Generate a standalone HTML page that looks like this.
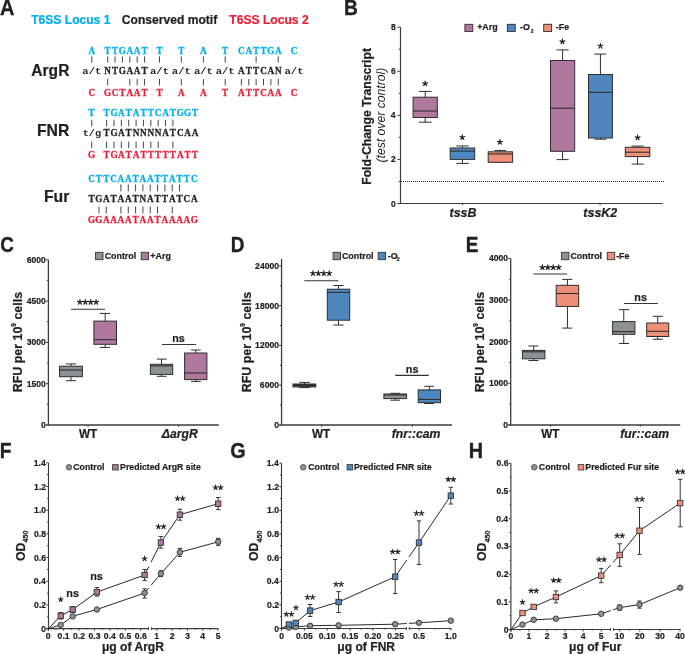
<!DOCTYPE html>
<html><head><meta charset="utf-8"><style>html,body{margin:0;padding:0;background:#fff;}svg{display:block;filter:blur(0.3px);}</style></head>
<body>
<svg width="685" height="654" viewBox="0 0 685 654">
<rect width="685" height="654" fill="#fff"/>
<text transform="translate(0.6 14.7) scale(0.94 1.06)" x="-0.53" font-family="Liberation Sans" font-size="21.3" font-weight="bold" fill="#231f20" stroke="#231f20" stroke-width="0.35">A</text>
<text transform="translate(345.2 14.7) scale(0.9 1.06)" x="-1.42" font-family="Liberation Sans" font-size="21.3" font-weight="bold" fill="#231f20" stroke="#231f20" stroke-width="0.35">B</text>
<text transform="translate(1.1 252) scale(0.89 1.06)" x="-0.87" font-family="Liberation Sans" font-size="21.3" font-weight="bold" fill="#231f20" stroke="#231f20" stroke-width="0.35">C</text>
<text transform="translate(232.1 251.7) scale(0.89 1.06)" x="-1.42" font-family="Liberation Sans" font-size="21.3" font-weight="bold" fill="#231f20" stroke="#231f20" stroke-width="0.35">D</text>
<text transform="translate(467.1 251.7) scale(0.89 1.06)" x="-1.42" font-family="Liberation Sans" font-size="21.3" font-weight="bold" fill="#231f20" stroke="#231f20" stroke-width="0.35">E</text>
<text transform="translate(1 457.5) scale(0.9 1.06)" x="-1.42" font-family="Liberation Sans" font-size="21.3" font-weight="bold" fill="#231f20" stroke="#231f20" stroke-width="0.35">F</text>
<text transform="translate(231 457.7) scale(0.93 1.06)" x="-0.87" font-family="Liberation Sans" font-size="21.3" font-weight="bold" fill="#231f20" stroke="#231f20" stroke-width="0.35">G</text>
<text transform="translate(470.1 457.7) scale(0.93 1.06)" x="-1.42" font-family="Liberation Sans" font-size="21.3" font-weight="bold" fill="#231f20" stroke="#231f20" stroke-width="0.35">H</text>
<text transform="translate(31.3 24.4) scale(1 1.06)" x="-0.14" font-family="Liberation Sans" font-size="12.1" font-weight="bold" fill="#00aeef" stroke="#00aeef" stroke-width="0.22">T6SS Locus 1</text>
<text transform="translate(122.3 24.4) scale(1 1.06)" x="-0.5" font-family="Liberation Sans" font-size="12.1" font-weight="bold" fill="#231f20" stroke="#231f20" stroke-width="0.22">Conserved motif</text>
<text transform="translate(229.5 24.4) scale(1 1.06)" x="-0.14" font-family="Liberation Sans" font-size="12.1" font-weight="bold" fill="#e8203a" stroke="#e8203a" stroke-width="0.22">T6SS Locus 2</text>
<text transform="translate(69.1 75.5) scale(1 1.06)" x="-37.81" font-family="Liberation Sans" font-size="15.6" font-weight="bold" fill="#231f20" stroke="#231f20" stroke-width="0.22">ArgR</text>
<text transform="translate(69.1 135.6) scale(1 1.06)" x="-32.15" font-family="Liberation Sans" font-size="15.8" font-weight="bold" fill="#231f20" stroke="#231f20" stroke-width="0.22">FNR</text>
<text transform="translate(69.1 201.9) scale(1 1.06)" x="-25.21" font-family="Liberation Sans" font-size="15.8" font-weight="bold" fill="#231f20" stroke="#231f20" stroke-width="0.22">Fur</text>
<text transform="translate(0 53.8) scale(0.86 1)" x="106.74 125.23 133.8 142.37 150.94 159.51 168.08 185.47 210.81 236.51 261.86 280.7 289.27 297.84 306.41 314.98 323.55 341.86" y="0" font-family="Liberation Serif" font-weight="bold" font-size="10.7" text-anchor="middle" fill="#00aeef" stroke="#00aeef" stroke-width="0.3">ATTGAATTTATCATTGAC</text>
<text transform="translate(0 95.6) scale(0.86 1)" x="106.74 125.23 133.8 142.37 150.94 159.51 168.08 185.47 210.81 236.51 261.86 280.7 289.27 297.84 306.41 314.98 323.55 341.86" y="0" font-family="Liberation Serif" font-weight="bold" font-size="10.7" text-anchor="middle" fill="#e8203a" stroke="#e8203a" stroke-width="0.3">CGCTAATTAATATTCAAC</text>
<text transform="translate(0 74) scale(0.86 1)" x="125.23 133.8 142.37 150.94 159.51 168.08 280.7 289.27 297.84 306.41 314.98 323.55" y="0" font-family="Liberation Serif" font-weight="bold" font-size="10.7" text-anchor="middle" fill="#231f20" stroke="#231f20" stroke-width="0.3">NTGAATATTCAN</text>
<text transform="translate(91.8 74) scale(1.03 0.92)" x="0" y="0" font-family="Liberation Mono" font-weight="bold" font-size="10.2" text-anchor="middle" fill="#231f20">a/t</text>
<text transform="translate(159.5 74) scale(1.03 0.92)" x="0" y="0" font-family="Liberation Mono" font-weight="bold" font-size="10.2" text-anchor="middle" fill="#231f20">a/t</text>
<text transform="translate(181.3 74) scale(1.03 0.92)" x="0" y="0" font-family="Liberation Mono" font-weight="bold" font-size="10.2" text-anchor="middle" fill="#231f20">a/t</text>
<text transform="translate(203.4 74) scale(1.03 0.92)" x="0" y="0" font-family="Liberation Mono" font-weight="bold" font-size="10.2" text-anchor="middle" fill="#231f20">a/t</text>
<text transform="translate(225.2 74) scale(1.03 0.92)" x="0" y="0" font-family="Liberation Mono" font-weight="bold" font-size="10.2" text-anchor="middle" fill="#231f20">a/t</text>
<text transform="translate(294 74) scale(1.03 0.92)" x="0" y="0" font-family="Liberation Mono" font-weight="bold" font-size="10.2" text-anchor="middle" fill="#231f20">a/t</text>
<line x1="91.8" y1="56.3" x2="91.8" y2="62.6" stroke="#333" stroke-width="0.9"/>
<line x1="107.7" y1="56.3" x2="107.7" y2="62.6" stroke="#333" stroke-width="0.9"/>
<line x1="115.07" y1="56.3" x2="115.07" y2="62.6" stroke="#333" stroke-width="0.9"/>
<line x1="122.44" y1="56.3" x2="122.44" y2="62.6" stroke="#333" stroke-width="0.9"/>
<line x1="129.81" y1="56.3" x2="129.81" y2="62.6" stroke="#333" stroke-width="0.9"/>
<line x1="137.18" y1="56.3" x2="137.18" y2="62.6" stroke="#333" stroke-width="0.9"/>
<line x1="144.55" y1="56.3" x2="144.55" y2="62.6" stroke="#333" stroke-width="0.9"/>
<line x1="159.5" y1="56.3" x2="159.5" y2="62.6" stroke="#333" stroke-width="0.9"/>
<line x1="181.3" y1="56.3" x2="181.3" y2="62.6" stroke="#333" stroke-width="0.9"/>
<line x1="203.4" y1="56.3" x2="203.4" y2="62.6" stroke="#333" stroke-width="0.9"/>
<line x1="225.2" y1="56.3" x2="225.2" y2="62.6" stroke="#333" stroke-width="0.9"/>
<line x1="256.14" y1="56.3" x2="256.14" y2="62.6" stroke="#333" stroke-width="0.9"/>
<line x1="278.25" y1="56.3" x2="278.25" y2="62.6" stroke="#333" stroke-width="0.9"/>
<line x1="107.7" y1="78.9" x2="107.7" y2="85.4" stroke="#333" stroke-width="0.9"/>
<line x1="129.81" y1="78.9" x2="129.81" y2="85.4" stroke="#333" stroke-width="0.9"/>
<line x1="137.18" y1="78.9" x2="137.18" y2="85.4" stroke="#333" stroke-width="0.9"/>
<line x1="144.55" y1="78.9" x2="144.55" y2="85.4" stroke="#333" stroke-width="0.9"/>
<line x1="159.5" y1="78.9" x2="159.5" y2="85.4" stroke="#333" stroke-width="0.9"/>
<line x1="181.3" y1="78.9" x2="181.3" y2="85.4" stroke="#333" stroke-width="0.9"/>
<line x1="203.4" y1="78.9" x2="203.4" y2="85.4" stroke="#333" stroke-width="0.9"/>
<line x1="225.2" y1="78.9" x2="225.2" y2="85.4" stroke="#333" stroke-width="0.9"/>
<line x1="241.4" y1="78.9" x2="241.4" y2="85.4" stroke="#333" stroke-width="0.9"/>
<line x1="248.77" y1="78.9" x2="248.77" y2="85.4" stroke="#333" stroke-width="0.9"/>
<line x1="256.14" y1="78.9" x2="256.14" y2="85.4" stroke="#333" stroke-width="0.9"/>
<line x1="263.51" y1="78.9" x2="263.51" y2="85.4" stroke="#333" stroke-width="0.9"/>
<line x1="270.88" y1="78.9" x2="270.88" y2="85.4" stroke="#333" stroke-width="0.9"/>
<line x1="278.25" y1="78.9" x2="278.25" y2="85.4" stroke="#333" stroke-width="0.9"/>
<text transform="translate(0 115.8) scale(0.86 1)" x="106.63 123.95 132.52 141.09 149.66 158.23 166.8 175.37 183.94 192.51 201.08 209.65 218.22 226.79" y="0" font-family="Liberation Serif" font-weight="bold" font-size="10.7" text-anchor="middle" fill="#00aeef" stroke="#00aeef" stroke-width="0.3">TTGATATTCATGGT</text>
<text transform="translate(0 136) scale(0.86 1)" x="123.95 132.52 141.09 149.66 158.23 166.8 175.37 183.94 192.51 201.08 209.65 218.22 226.79" y="0" font-family="Liberation Serif" font-weight="bold" font-size="10.7" text-anchor="middle" fill="#231f20" stroke="#231f20" stroke-width="0.3">TGATNNNNATCAA</text>
<text transform="translate(91.9 136) scale(1.01 0.92)" x="0" y="0" font-family="Liberation Mono" font-weight="bold" font-size="10.2" text-anchor="middle" fill="#231f20">t/g</text>
<text transform="translate(0 158.2) scale(0.86 1)" x="106.63 123.95 132.52 141.09 149.66 158.23 166.8 175.37 183.94 192.51 201.08 209.65 218.22 226.79" y="0" font-family="Liberation Serif" font-weight="bold" font-size="10.7" text-anchor="middle" fill="#e8203a" stroke="#e8203a" stroke-width="0.3">GTGATATTTTTATT</text>
<line x1="91.7" y1="119.8" x2="91.7" y2="126.3" stroke="#333" stroke-width="0.9"/>
<line x1="106.6" y1="119.8" x2="106.6" y2="126.3" stroke="#333" stroke-width="0.9"/>
<line x1="113.97" y1="119.8" x2="113.97" y2="126.3" stroke="#333" stroke-width="0.9"/>
<line x1="121.34" y1="119.8" x2="121.34" y2="126.3" stroke="#333" stroke-width="0.9"/>
<line x1="128.71" y1="119.8" x2="128.71" y2="126.3" stroke="#333" stroke-width="0.9"/>
<line x1="136.08" y1="119.8" x2="136.08" y2="126.3" stroke="#333" stroke-width="0.9"/>
<line x1="143.45" y1="119.8" x2="143.45" y2="126.3" stroke="#333" stroke-width="0.9"/>
<line x1="150.82" y1="119.8" x2="150.82" y2="126.3" stroke="#333" stroke-width="0.9"/>
<line x1="158.19" y1="119.8" x2="158.19" y2="126.3" stroke="#333" stroke-width="0.9"/>
<line x1="165.56" y1="119.8" x2="165.56" y2="126.3" stroke="#333" stroke-width="0.9"/>
<line x1="172.93" y1="119.8" x2="172.93" y2="126.3" stroke="#333" stroke-width="0.9"/>
<line x1="91.7" y1="141.6" x2="91.7" y2="148.2" stroke="#333" stroke-width="0.9"/>
<line x1="106.6" y1="141.6" x2="106.6" y2="148.2" stroke="#333" stroke-width="0.9"/>
<line x1="113.97" y1="141.6" x2="113.97" y2="148.2" stroke="#333" stroke-width="0.9"/>
<line x1="121.34" y1="141.6" x2="121.34" y2="148.2" stroke="#333" stroke-width="0.9"/>
<line x1="128.71" y1="141.6" x2="128.71" y2="148.2" stroke="#333" stroke-width="0.9"/>
<line x1="136.08" y1="141.6" x2="136.08" y2="148.2" stroke="#333" stroke-width="0.9"/>
<line x1="143.45" y1="141.6" x2="143.45" y2="148.2" stroke="#333" stroke-width="0.9"/>
<line x1="150.82" y1="141.6" x2="150.82" y2="148.2" stroke="#333" stroke-width="0.9"/>
<line x1="158.19" y1="141.6" x2="158.19" y2="148.2" stroke="#333" stroke-width="0.9"/>
<line x1="172.93" y1="141.6" x2="172.93" y2="148.2" stroke="#333" stroke-width="0.9"/>
<text transform="translate(0 181.6) scale(0.86 1)" x="106.51 115.03 123.56 132.08 140.6 149.13 157.65 166.17 174.7 183.22 191.74 200.27 208.79 217.31 225.84" y="0" font-family="Liberation Serif" font-weight="bold" font-size="10.7" text-anchor="middle" fill="#00aeef" stroke="#00aeef" stroke-width="0.3">CTTCAATAATTATTC</text>
<text transform="translate(0 201.9) scale(0.86 1)" x="106.51 115.03 123.56 132.08 140.6 149.13 157.65 166.17 174.7 183.22 191.74 200.27 208.79 217.31 225.84" y="0" font-family="Liberation Serif" font-weight="bold" font-size="10.7" text-anchor="middle" fill="#231f20" stroke="#231f20" stroke-width="0.3">TGATAATNATTATCA</text>
<text transform="translate(0 223.4) scale(0.86 1)" x="106.51 115.03 123.56 132.08 140.6 149.13 157.65 166.17 174.7 183.22 191.74 200.27 208.79 217.31 225.84" y="0" font-family="Liberation Serif" font-weight="bold" font-size="10.7" text-anchor="middle" fill="#e8203a" stroke="#e8203a" stroke-width="0.3">GGAAAATAATAAAAG</text>
<line x1="120.92" y1="184.4" x2="120.92" y2="191.3" stroke="#333" stroke-width="0.9"/>
<line x1="128.25" y1="184.4" x2="128.25" y2="191.3" stroke="#333" stroke-width="0.9"/>
<line x1="135.58" y1="184.4" x2="135.58" y2="191.3" stroke="#333" stroke-width="0.9"/>
<line x1="142.91" y1="184.4" x2="142.91" y2="191.3" stroke="#333" stroke-width="0.9"/>
<line x1="150.24" y1="184.4" x2="150.24" y2="191.3" stroke="#333" stroke-width="0.9"/>
<line x1="157.57" y1="184.4" x2="157.57" y2="191.3" stroke="#333" stroke-width="0.9"/>
<line x1="164.9" y1="184.4" x2="164.9" y2="191.3" stroke="#333" stroke-width="0.9"/>
<line x1="172.23" y1="184.4" x2="172.23" y2="191.3" stroke="#333" stroke-width="0.9"/>
<line x1="179.56" y1="184.4" x2="179.56" y2="191.3" stroke="#333" stroke-width="0.9"/>
<line x1="98.93" y1="206.5" x2="98.93" y2="213.4" stroke="#333" stroke-width="0.9"/>
<line x1="106.26" y1="206.5" x2="106.26" y2="213.4" stroke="#333" stroke-width="0.9"/>
<line x1="120.92" y1="206.5" x2="120.92" y2="213.4" stroke="#333" stroke-width="0.9"/>
<line x1="128.25" y1="206.5" x2="128.25" y2="213.4" stroke="#333" stroke-width="0.9"/>
<line x1="135.58" y1="206.5" x2="135.58" y2="213.4" stroke="#333" stroke-width="0.9"/>
<line x1="142.91" y1="206.5" x2="142.91" y2="213.4" stroke="#333" stroke-width="0.9"/>
<line x1="150.24" y1="206.5" x2="150.24" y2="213.4" stroke="#333" stroke-width="0.9"/>
<line x1="157.57" y1="206.5" x2="157.57" y2="213.4" stroke="#333" stroke-width="0.9"/>
<line x1="172.23" y1="206.5" x2="172.23" y2="213.4" stroke="#333" stroke-width="0.9"/>
<line x1="400.5" y1="27.2" x2="400.5" y2="204.1" stroke="#3c3c3c" stroke-width="1.2"/>
<line x1="397.3" y1="203.5" x2="662.6" y2="203.5" stroke="#3c3c3c" stroke-width="1.15"/>
<text transform="translate(395.4 206.51) scale(1 1.12)" x="-4.43" font-family="Liberation Sans" font-size="8.6" font-weight="bold" fill="#231f20" stroke="#231f20" stroke-width="0.22">0</text>
<line x1="398.7" y1="181.46" x2="400.5" y2="181.46" stroke="#3c3c3c" stroke-width="1"/>
<line x1="397.4" y1="159.42" x2="400.5" y2="159.42" stroke="#3c3c3c" stroke-width="1"/>
<text transform="translate(395.4 162.43) scale(1 1.12)" x="-4.44" font-family="Liberation Sans" font-size="8.6" font-weight="bold" fill="#231f20" stroke="#231f20" stroke-width="0.22">2</text>
<line x1="398.7" y1="137.38" x2="400.5" y2="137.38" stroke="#3c3c3c" stroke-width="1"/>
<line x1="397.4" y1="115.34" x2="400.5" y2="115.34" stroke="#3c3c3c" stroke-width="1"/>
<text transform="translate(395.4 118.35) scale(1 1.12)" x="-4.74" font-family="Liberation Sans" font-size="8.6" font-weight="bold" fill="#231f20" stroke="#231f20" stroke-width="0.22">4</text>
<line x1="398.7" y1="93.3" x2="400.5" y2="93.3" stroke="#3c3c3c" stroke-width="1"/>
<line x1="397.4" y1="71.26" x2="400.5" y2="71.26" stroke="#3c3c3c" stroke-width="1"/>
<text transform="translate(395.4 74.27) scale(1 1.12)" x="-4.47" font-family="Liberation Sans" font-size="8.6" font-weight="bold" fill="#231f20" stroke="#231f20" stroke-width="0.22">6</text>
<line x1="398.7" y1="49.22" x2="400.5" y2="49.22" stroke="#3c3c3c" stroke-width="1"/>
<line x1="397.4" y1="27.18" x2="400.5" y2="27.18" stroke="#3c3c3c" stroke-width="1"/>
<text transform="translate(395.4 30.19) scale(1 1.12)" x="-4.52" font-family="Liberation Sans" font-size="8.6" font-weight="bold" fill="#231f20" stroke="#231f20" stroke-width="0.22">8</text>
<line x1="462.5" y1="203.5" x2="462.5" y2="205.3" stroke="#3c3c3c" stroke-width="1"/>
<line x1="600.1" y1="203.5" x2="600.1" y2="205.3" stroke="#3c3c3c" stroke-width="1"/>
<line x1="401" y1="181.5" x2="664" y2="181.5" stroke="#2a2a2a" stroke-width="1" stroke-dasharray="1 1"/>
<line x1="425.2" y1="91.4" x2="425.2" y2="97.2" stroke="#2e2e2e" stroke-width="1"/>
<line x1="425.2" y1="117.5" x2="425.2" y2="122.2" stroke="#2e2e2e" stroke-width="1"/>
<line x1="418.9" y1="91.4" x2="431.5" y2="91.4" stroke="#2e2e2e" stroke-width="1"/>
<line x1="418.9" y1="122.2" x2="431.5" y2="122.2" stroke="#2e2e2e" stroke-width="1"/>
<rect x="413.1" y="97.2" width="24.2" height="20.3" fill="#b0779f" stroke="#2e2e2e" stroke-width="1"/>
<line x1="413.1" y1="111" x2="437.3" y2="111" stroke="#2e2e2e" stroke-width="1.1"/>
<path d="M425.1 83.6L425.1 81.1M425.1 83.6L427.48 82.83M425.1 83.6L426.57 85.62M425.1 83.6L423.63 85.62M425.1 83.6L422.72 82.83" stroke="#231f20" stroke-width="1.21" stroke-linecap="round" fill="none"/>
<line x1="462.45" y1="146" x2="462.45" y2="148" stroke="#2e2e2e" stroke-width="1"/>
<line x1="462.45" y1="159.4" x2="462.45" y2="163.4" stroke="#2e2e2e" stroke-width="1"/>
<line x1="456.4" y1="146" x2="468.8" y2="146" stroke="#2e2e2e" stroke-width="1"/>
<line x1="456.4" y1="163.4" x2="468.8" y2="163.4" stroke="#2e2e2e" stroke-width="1"/>
<rect x="450.2" y="148" width="24.5" height="11.4" fill="#4e86be" stroke="#2e2e2e" stroke-width="1"/>
<line x1="450.2" y1="151.1" x2="474.7" y2="151.1" stroke="#2e2e2e" stroke-width="1.1"/>
<path d="M462.3 137.3L462.3 134.8M462.3 137.3L464.68 136.53M462.3 137.3L463.77 139.32M462.3 137.3L460.83 139.32M462.3 137.3L459.92 136.53" stroke="#231f20" stroke-width="1.21" stroke-linecap="round" fill="none"/>
<line x1="500.4" y1="150.4" x2="500.4" y2="151.8" stroke="#2e2e2e" stroke-width="1"/>
<line x1="500.4" y1="162.3" x2="500.4" y2="162.3" stroke="#2e2e2e" stroke-width="1"/>
<line x1="494.3" y1="150.4" x2="506.1" y2="150.4" stroke="#2e2e2e" stroke-width="1"/>
<line x1="494.3" y1="162.3" x2="506.1" y2="162.3" stroke="#2e2e2e" stroke-width="1"/>
<rect x="488.2" y="151.8" width="24.4" height="10.5" fill="#ee8f77" stroke="#2e2e2e" stroke-width="1"/>
<line x1="488.2" y1="154" x2="512.6" y2="154" stroke="#2e2e2e" stroke-width="1.1"/>
<path d="M499.9 142.1L499.9 139.6M499.9 142.1L502.28 141.33M499.9 142.1L501.37 144.12M499.9 142.1L498.43 144.12M499.9 142.1L497.52 141.33" stroke="#231f20" stroke-width="1.21" stroke-linecap="round" fill="none"/>
<line x1="562.6" y1="49.9" x2="562.6" y2="60.5" stroke="#2e2e2e" stroke-width="1"/>
<line x1="562.6" y1="151.3" x2="562.6" y2="159.6" stroke="#2e2e2e" stroke-width="1"/>
<line x1="556.6" y1="49.9" x2="568.6" y2="49.9" stroke="#2e2e2e" stroke-width="1"/>
<line x1="556.6" y1="159.6" x2="568.6" y2="159.6" stroke="#2e2e2e" stroke-width="1"/>
<rect x="550.5" y="60.5" width="24.2" height="90.8" fill="#b0779f" stroke="#2e2e2e" stroke-width="1"/>
<line x1="550.5" y1="108.2" x2="574.7" y2="108.2" stroke="#2e2e2e" stroke-width="1.1"/>
<path d="M562.4 41.6L562.4 39.1M562.4 41.6L564.78 40.83M562.4 41.6L563.87 43.62M562.4 41.6L560.93 43.62M562.4 41.6L560.02 40.83" stroke="#231f20" stroke-width="1.21" stroke-linecap="round" fill="none"/>
<line x1="600.45" y1="54.1" x2="600.45" y2="74.5" stroke="#2e2e2e" stroke-width="1"/>
<line x1="600.45" y1="138" x2="600.45" y2="139.2" stroke="#2e2e2e" stroke-width="1"/>
<line x1="594.3" y1="54.1" x2="606.2" y2="54.1" stroke="#2e2e2e" stroke-width="1"/>
<line x1="594.3" y1="139.2" x2="606.2" y2="139.2" stroke="#2e2e2e" stroke-width="1"/>
<rect x="588.5" y="74.5" width="23.9" height="63.5" fill="#4e86be" stroke="#2e2e2e" stroke-width="1"/>
<line x1="588.5" y1="92.3" x2="612.4" y2="92.3" stroke="#2e2e2e" stroke-width="1.1"/>
<path d="M600.4 46L600.4 43.5M600.4 46L602.78 45.23M600.4 46L601.87 48.02M600.4 46L598.93 48.02M600.4 46L598.02 45.23" stroke="#231f20" stroke-width="1.21" stroke-linecap="round" fill="none"/>
<line x1="637.55" y1="146.1" x2="637.55" y2="147.3" stroke="#2e2e2e" stroke-width="1"/>
<line x1="637.55" y1="156.6" x2="637.55" y2="164.1" stroke="#2e2e2e" stroke-width="1"/>
<line x1="631.6" y1="146.1" x2="643.7" y2="146.1" stroke="#2e2e2e" stroke-width="1"/>
<line x1="631.6" y1="164.1" x2="643.7" y2="164.1" stroke="#2e2e2e" stroke-width="1"/>
<rect x="625.3" y="147.3" width="24.5" height="9.3" fill="#ee8f77" stroke="#2e2e2e" stroke-width="1"/>
<line x1="625.3" y1="152.2" x2="649.8" y2="152.2" stroke="#2e2e2e" stroke-width="1.1"/>
<path d="M637.6 137.7L637.6 135.2M637.6 137.7L639.98 136.93M637.6 137.7L639.07 139.72M637.6 137.7L636.13 139.72M637.6 137.7L635.22 136.93" stroke="#231f20" stroke-width="1.21" stroke-linecap="round" fill="none"/>
<text transform="translate(450.1 217.4) scale(1 1.06)" x="-0.52" font-family="Liberation Sans" font-size="12.4" font-weight="bold" font-style="italic" fill="#231f20" stroke="#231f20" stroke-width="0.22">tssB</text>
<text transform="translate(583.8 217.4) scale(1 1.06)" x="-0.52" font-family="Liberation Sans" font-size="12.5" font-weight="bold" font-style="italic" fill="#231f20" stroke="#231f20" stroke-width="0.22">tssK2</text>
<rect x="464.9" y="24.3" width="7.9" height="7.2" fill="#b0779f" stroke="#2e2e2e" stroke-width="0.9"/>
<rect x="507.3" y="24.3" width="7.9" height="7.2" fill="#4e86be" stroke="#2e2e2e" stroke-width="0.9"/>
<rect x="543.7" y="24.3" width="7.9" height="7.2" fill="#ee8f77" stroke="#2e2e2e" stroke-width="0.9"/>
<text transform="translate(477.5 30.3) scale(1 1.06)" x="-0.37" font-family="Liberation Sans" font-size="8.9" font-weight="bold" fill="#231f20" stroke="#231f20" stroke-width="0.22">+Arg</text>
<text transform="translate(520.4 30.3) scale(1 1.06)" x="-0.35" font-family="Liberation Sans" font-size="8.9" font-weight="bold" fill="#231f20" stroke="#231f20" stroke-width="0.22">-O</text>
<text transform="translate(531 32.6) scale(1 1.06)" x="-0.17" font-family="Liberation Sans" font-size="5" font-weight="bold" fill="#231f20" stroke="#231f20" stroke-width="0.22">2</text>
<text transform="translate(556.1 30.3) scale(1 1.06)" x="-0.35" font-family="Liberation Sans" font-size="8.9" font-weight="bold" fill="#231f20" stroke="#231f20" stroke-width="0.22">-Fe</text>
<text transform="translate(370.9 184) rotate(-90) scale(1 1.06)" x="-0.82" y="0" font-family="Liberation Sans" font-size="12.2" font-weight="bold" stroke="#231f20" stroke-width="0.22" fill="#231f20">Fold-Change Transcript</text>
<text transform="translate(385.4 162) rotate(-90) scale(1 1.06)" x="-0.57" y="0" font-family="Liberation Sans" font-size="12.2" font-style="italic" fill="#231f20">(test over control)</text>
<line x1="48.4" y1="259.8" x2="48.4" y2="425.55" stroke="#3c3c3c" stroke-width="1.3"/>
<line x1="45.8" y1="424.95" x2="218.8" y2="424.95" stroke="#3c3c3c" stroke-width="1.4"/>
<text transform="translate(45.5 427.96) scale(1 1.12)" x="-4.43" font-family="Liberation Sans" font-size="8.6" font-weight="bold" fill="#231f20" stroke="#231f20" stroke-width="0.22">0</text>
<line x1="46.9" y1="404.31" x2="48.4" y2="404.31" stroke="#3c3c3c" stroke-width="1"/>
<line x1="46" y1="383.66" x2="48.4" y2="383.66" stroke="#3c3c3c" stroke-width="1"/>
<text transform="translate(45.5 386.68) scale(1 1.12)" x="-18.78" font-family="Liberation Sans" font-size="8.6" font-weight="bold" fill="#231f20" stroke="#231f20" stroke-width="0.22">1500</text>
<line x1="46.9" y1="363.02" x2="48.4" y2="363.02" stroke="#3c3c3c" stroke-width="1"/>
<line x1="46" y1="342.38" x2="48.4" y2="342.38" stroke="#3c3c3c" stroke-width="1"/>
<text transform="translate(45.5 345.39) scale(1 1.12)" x="-18.78" font-family="Liberation Sans" font-size="8.6" font-weight="bold" fill="#231f20" stroke="#231f20" stroke-width="0.22">3000</text>
<line x1="46.9" y1="321.73" x2="48.4" y2="321.73" stroke="#3c3c3c" stroke-width="1"/>
<line x1="46" y1="301.09" x2="48.4" y2="301.09" stroke="#3c3c3c" stroke-width="1"/>
<text transform="translate(45.5 304.1) scale(1 1.12)" x="-18.78" font-family="Liberation Sans" font-size="8.6" font-weight="bold" fill="#231f20" stroke="#231f20" stroke-width="0.22">4500</text>
<line x1="46.9" y1="280.44" x2="48.4" y2="280.44" stroke="#3c3c3c" stroke-width="1"/>
<line x1="46" y1="259.8" x2="48.4" y2="259.8" stroke="#3c3c3c" stroke-width="1"/>
<text transform="translate(45.5 262.81) scale(1 1.12)" x="-18.78" font-family="Liberation Sans" font-size="8.6" font-weight="bold" fill="#231f20" stroke="#231f20" stroke-width="0.22">6000</text>
<line x1="88" y1="424.95" x2="88" y2="426.75" stroke="#3c3c3c" stroke-width="1"/>
<line x1="178.7" y1="424.95" x2="178.7" y2="426.75" stroke="#3c3c3c" stroke-width="1"/>
<text transform="translate(88 437.8) scale(1 1.06)" x="-9.04" font-family="Liberation Sans" font-size="11.7" font-weight="bold" fill="#231f20" stroke="#231f20" stroke-width="0.22">WT</text>
<text transform="translate(179.6 437.8) scale(1 1.06)" x="-17.76" font-family="Liberation Sans" font-size="12.2" font-weight="bold" font-style="italic" fill="#231f20" stroke="#231f20" stroke-width="0.22">ΔargR</text>
<line x1="71" y1="363.9" x2="71" y2="366.2" stroke="#2e2e2e" stroke-width="1"/>
<line x1="71" y1="376.7" x2="71" y2="380.7" stroke="#2e2e2e" stroke-width="1"/>
<line x1="66.1" y1="363.9" x2="76" y2="363.9" stroke="#2e2e2e" stroke-width="1"/>
<line x1="66.1" y1="380.7" x2="76" y2="380.7" stroke="#2e2e2e" stroke-width="1"/>
<rect x="59.6" y="366.2" width="22.8" height="10.5" fill="#8b9194" stroke="#2e2e2e" stroke-width="1"/>
<line x1="59.6" y1="370" x2="82.4" y2="370" stroke="#2e2e2e" stroke-width="1.1"/>
<line x1="105.2" y1="313.4" x2="105.2" y2="321.1" stroke="#2e2e2e" stroke-width="1"/>
<line x1="105.2" y1="344.3" x2="105.2" y2="347.4" stroke="#2e2e2e" stroke-width="1"/>
<line x1="99.7" y1="313.4" x2="110.1" y2="313.4" stroke="#2e2e2e" stroke-width="1"/>
<line x1="99.7" y1="347.4" x2="110.1" y2="347.4" stroke="#2e2e2e" stroke-width="1"/>
<rect x="93.9" y="321.1" width="22.6" height="23.2" fill="#b0779f" stroke="#2e2e2e" stroke-width="1"/>
<line x1="93.9" y1="339.7" x2="116.5" y2="339.7" stroke="#2e2e2e" stroke-width="1.1"/>
<line x1="161.55" y1="359.1" x2="161.55" y2="364.3" stroke="#2e2e2e" stroke-width="1"/>
<line x1="161.55" y1="374.4" x2="161.55" y2="376.3" stroke="#2e2e2e" stroke-width="1"/>
<line x1="156.9" y1="359.1" x2="166.7" y2="359.1" stroke="#2e2e2e" stroke-width="1"/>
<line x1="156.9" y1="376.3" x2="166.7" y2="376.3" stroke="#2e2e2e" stroke-width="1"/>
<rect x="150.4" y="364.3" width="22.3" height="10.1" fill="#8b9194" stroke="#2e2e2e" stroke-width="1"/>
<line x1="150.4" y1="365.9" x2="172.7" y2="365.9" stroke="#2e2e2e" stroke-width="1.1"/>
<line x1="195.75" y1="350" x2="195.75" y2="353" stroke="#2e2e2e" stroke-width="1"/>
<line x1="195.75" y1="379.6" x2="195.75" y2="381.4" stroke="#2e2e2e" stroke-width="1"/>
<line x1="191.1" y1="350" x2="200.8" y2="350" stroke="#2e2e2e" stroke-width="1"/>
<line x1="191.1" y1="381.4" x2="200.8" y2="381.4" stroke="#2e2e2e" stroke-width="1"/>
<rect x="184.6" y="353" width="22.3" height="26.6" fill="#b0779f" stroke="#2e2e2e" stroke-width="1"/>
<line x1="184.6" y1="373" x2="206.9" y2="373" stroke="#2e2e2e" stroke-width="1.1"/>
<line x1="71.1" y1="309.3" x2="105.1" y2="309.3" stroke="#333" stroke-width="1.1"/>
<path d="M79.9 302.2L79.9 299.7M79.9 302.2L82.28 301.43M79.9 302.2L81.37 304.22M79.9 302.2L78.43 304.22M79.9 302.2L77.52 301.43M85.3 302.2L85.3 299.7M85.3 302.2L87.68 301.43M85.3 302.2L86.77 304.22M85.3 302.2L83.83 304.22M85.3 302.2L82.92 301.43M90.7 302.2L90.7 299.7M90.7 302.2L93.08 301.43M90.7 302.2L92.17 304.22M90.7 302.2L89.23 304.22M90.7 302.2L88.32 301.43M96.1 302.2L96.1 299.7M96.1 302.2L98.48 301.43M96.1 302.2L97.57 304.22M96.1 302.2L94.63 304.22M96.1 302.2L93.72 301.43" stroke="#231f20" stroke-width="1.21" stroke-linecap="round" fill="none"/>
<line x1="162" y1="344.5" x2="195.9" y2="344.5" stroke="#333" stroke-width="1.1"/>
<text transform="translate(178.6 341.72) scale(1 1.06)" x="-6.44" font-family="Liberation Sans" font-size="10.8" font-weight="bold" fill="#231f20" stroke="#231f20" stroke-width="0.22">ns</text>
<rect x="95.6" y="252.3" width="7.4" height="7.4" fill="#8b9194" stroke="#333" stroke-width="0.9"/>
<text transform="translate(105 258.5) scale(1 1.06)" x="-0.37" font-family="Liberation Sans" font-size="8.9" font-weight="bold" fill="#231f20" stroke="#231f20" stroke-width="0.22">Control</text>
<rect x="141.2" y="252.3" width="7.4" height="7.4" fill="#b0779f" stroke="#333" stroke-width="0.9"/>
<text transform="translate(150.7 258.5) scale(1 1.06)" x="-0.37" font-family="Liberation Sans" font-size="8.9" font-weight="bold" fill="#231f20" stroke="#231f20" stroke-width="0.22">+Arg</text>
<text transform="translate(21.8 391.5) rotate(-90) scale(1 1.06)" x="-0.83" y="0" font-family="Liberation Sans" font-size="12.45" font-weight="bold" stroke="#231f20" stroke-width="0.22" fill="#231f20">RFU per 10<tspan font-size="6.6" dy="-5.6">9</tspan><tspan dy="5.6">&#160;cells</tspan></text>
<line x1="281.55" y1="258.9" x2="281.55" y2="425.55" stroke="#3c3c3c" stroke-width="1.3"/>
<line x1="278.95" y1="424.95" x2="452" y2="424.95" stroke="#3c3c3c" stroke-width="1.4"/>
<text transform="translate(278.65 427.96) scale(1 1.12)" x="-4.43" font-family="Liberation Sans" font-size="8.6" font-weight="bold" fill="#231f20" stroke="#231f20" stroke-width="0.22">0</text>
<line x1="280.05" y1="405.07" x2="281.55" y2="405.07" stroke="#3c3c3c" stroke-width="1"/>
<line x1="279.15" y1="385.19" x2="281.55" y2="385.19" stroke="#3c3c3c" stroke-width="1"/>
<text transform="translate(278.65 388.2) scale(1 1.12)" x="-18.78" font-family="Liberation Sans" font-size="8.6" font-weight="bold" fill="#231f20" stroke="#231f20" stroke-width="0.22">6000</text>
<line x1="280.05" y1="365.31" x2="281.55" y2="365.31" stroke="#3c3c3c" stroke-width="1"/>
<line x1="279.15" y1="345.42" x2="281.55" y2="345.42" stroke="#3c3c3c" stroke-width="1"/>
<text transform="translate(278.65 348.44) scale(1 1.12)" x="-23.56" font-family="Liberation Sans" font-size="8.6" font-weight="bold" fill="#231f20" stroke="#231f20" stroke-width="0.22">12000</text>
<line x1="280.05" y1="325.54" x2="281.55" y2="325.54" stroke="#3c3c3c" stroke-width="1"/>
<line x1="279.15" y1="305.66" x2="281.55" y2="305.66" stroke="#3c3c3c" stroke-width="1"/>
<text transform="translate(278.65 308.68) scale(1 1.12)" x="-23.56" font-family="Liberation Sans" font-size="8.6" font-weight="bold" fill="#231f20" stroke="#231f20" stroke-width="0.22">18000</text>
<line x1="280.05" y1="285.78" x2="281.55" y2="285.78" stroke="#3c3c3c" stroke-width="1"/>
<line x1="279.15" y1="265.9" x2="281.55" y2="265.9" stroke="#3c3c3c" stroke-width="1"/>
<text transform="translate(278.65 268.91) scale(1 1.12)" x="-23.56" font-family="Liberation Sans" font-size="8.6" font-weight="bold" fill="#231f20" stroke="#231f20" stroke-width="0.22">24000</text>
<line x1="321.6" y1="424.95" x2="321.6" y2="426.75" stroke="#3c3c3c" stroke-width="1"/>
<line x1="412.5" y1="424.95" x2="412.5" y2="426.75" stroke="#3c3c3c" stroke-width="1"/>
<text transform="translate(321.1 437.8) scale(1 1.06)" x="-9.04" font-family="Liberation Sans" font-size="11.7" font-weight="bold" fill="#231f20" stroke="#231f20" stroke-width="0.22">WT</text>
<text transform="translate(416.05 437.8) scale(1 1.06)" x="-24.37" font-family="Liberation Sans" font-size="12.2" font-weight="bold" font-style="italic" fill="#231f20" stroke="#231f20" stroke-width="0.22">fnr::cam</text>
<line x1="304.4" y1="382.4" x2="304.4" y2="384" stroke="#2e2e2e" stroke-width="1"/>
<line x1="304.4" y1="386.9" x2="304.4" y2="387.6" stroke="#2e2e2e" stroke-width="1"/>
<line x1="299.2" y1="382.4" x2="309.8" y2="382.4" stroke="#2e2e2e" stroke-width="1"/>
<line x1="299.2" y1="387.6" x2="309.8" y2="387.6" stroke="#2e2e2e" stroke-width="1"/>
<rect x="293" y="384" width="22.8" height="2.9" fill="#3a3a3a" stroke="#2e2e2e" stroke-width="1"/>
<line x1="293" y1="385.4" x2="315.8" y2="385.4" stroke="#2e2e2e" stroke-width="1.1"/>
<line x1="338.5" y1="285.5" x2="338.5" y2="289.2" stroke="#2e2e2e" stroke-width="1"/>
<line x1="338.5" y1="320.2" x2="338.5" y2="325" stroke="#2e2e2e" stroke-width="1"/>
<line x1="333.4" y1="285.5" x2="343.6" y2="285.5" stroke="#2e2e2e" stroke-width="1"/>
<line x1="333.4" y1="325" x2="343.6" y2="325" stroke="#2e2e2e" stroke-width="1"/>
<rect x="327.3" y="289.2" width="22.4" height="31" fill="#4e86be" stroke="#2e2e2e" stroke-width="1"/>
<line x1="327.3" y1="292.4" x2="349.7" y2="292.4" stroke="#2e2e2e" stroke-width="1.1"/>
<line x1="395.25" y1="393.3" x2="395.25" y2="394" stroke="#2e2e2e" stroke-width="1"/>
<line x1="395.25" y1="398.6" x2="395.25" y2="400.2" stroke="#2e2e2e" stroke-width="1"/>
<line x1="390.3" y1="393.3" x2="400" y2="393.3" stroke="#2e2e2e" stroke-width="1"/>
<line x1="390.3" y1="400.2" x2="400" y2="400.2" stroke="#2e2e2e" stroke-width="1"/>
<rect x="383.9" y="394" width="22.7" height="4.6" fill="#8b9194" stroke="#2e2e2e" stroke-width="1"/>
<line x1="383.9" y1="394.9" x2="406.6" y2="394.9" stroke="#2e2e2e" stroke-width="1.1"/>
<line x1="429.35" y1="386.3" x2="429.35" y2="389.9" stroke="#2e2e2e" stroke-width="1"/>
<line x1="429.35" y1="402.7" x2="429.35" y2="403.5" stroke="#2e2e2e" stroke-width="1"/>
<line x1="424.3" y1="386.3" x2="434" y2="386.3" stroke="#2e2e2e" stroke-width="1"/>
<line x1="424.3" y1="403.5" x2="434" y2="403.5" stroke="#2e2e2e" stroke-width="1"/>
<rect x="418.2" y="389.9" width="22.3" height="12.8" fill="#4e86be" stroke="#2e2e2e" stroke-width="1"/>
<line x1="418.2" y1="399.4" x2="440.5" y2="399.4" stroke="#2e2e2e" stroke-width="1.1"/>
<line x1="304.3" y1="280.7" x2="338.4" y2="280.7" stroke="#333" stroke-width="1.1"/>
<path d="M313 273.3L313 270.8M313 273.3L315.38 272.53M313 273.3L314.47 275.32M313 273.3L311.53 275.32M313 273.3L310.62 272.53M318.4 273.3L318.4 270.8M318.4 273.3L320.78 272.53M318.4 273.3L319.87 275.32M318.4 273.3L316.93 275.32M318.4 273.3L316.02 272.53M323.8 273.3L323.8 270.8M323.8 273.3L326.18 272.53M323.8 273.3L325.27 275.32M323.8 273.3L322.33 275.32M323.8 273.3L321.42 272.53M329.2 273.3L329.2 270.8M329.2 273.3L331.58 272.53M329.2 273.3L330.67 275.32M329.2 273.3L327.73 275.32M329.2 273.3L326.82 272.53" stroke="#231f20" stroke-width="1.21" stroke-linecap="round" fill="none"/>
<line x1="395.2" y1="375.4" x2="428.8" y2="375.4" stroke="#333" stroke-width="1.1"/>
<text transform="translate(412.3 372.82) scale(1 1.06)" x="-6.44" font-family="Liberation Sans" font-size="10.8" font-weight="bold" fill="#231f20" stroke="#231f20" stroke-width="0.22">ns</text>
<rect x="333.1" y="252.3" width="7.4" height="7.4" fill="#8b9194" stroke="#333" stroke-width="0.9"/>
<text transform="translate(342.3 258.5) scale(1 1.06)" x="-0.37" font-family="Liberation Sans" font-size="8.9" font-weight="bold" fill="#231f20" stroke="#231f20" stroke-width="0.22">Control</text>
<rect x="378.2" y="252.3" width="7.4" height="7.4" fill="#4e86be" stroke="#333" stroke-width="0.9"/>
<text transform="translate(388.1 258.5) scale(1 1.06)" x="-0.35" font-family="Liberation Sans" font-size="8.9" font-weight="bold" fill="#231f20" stroke="#231f20" stroke-width="0.22">-O</text>
<text transform="translate(250.6 391.5) rotate(-90) scale(1 1.06)" x="-0.83" y="0" font-family="Liberation Sans" font-size="12.45" font-weight="bold" stroke="#231f20" stroke-width="0.22" fill="#231f20">RFU per 10<tspan font-size="6.6" dy="-5.6">9</tspan><tspan dy="5.6">&#160;cells</tspan></text>
<text transform="translate(396.8 261.4) scale(1 1.06)" x="-0.18" font-family="Liberation Sans" font-size="5.2" font-weight="bold" fill="#231f20" stroke="#231f20" stroke-width="0.22">2</text>
<line x1="510.7" y1="258.4" x2="510.7" y2="425.55" stroke="#3c3c3c" stroke-width="1.3"/>
<line x1="508.1" y1="424.95" x2="680.2" y2="424.95" stroke="#3c3c3c" stroke-width="1.4"/>
<text transform="translate(507.8 427.96) scale(1 1.12)" x="-4.43" font-family="Liberation Sans" font-size="8.6" font-weight="bold" fill="#231f20" stroke="#231f20" stroke-width="0.22">0</text>
<line x1="509.2" y1="404.13" x2="510.7" y2="404.13" stroke="#3c3c3c" stroke-width="1"/>
<line x1="508.3" y1="383.31" x2="510.7" y2="383.31" stroke="#3c3c3c" stroke-width="1"/>
<text transform="translate(507.8 386.33) scale(1 1.12)" x="-18.78" font-family="Liberation Sans" font-size="8.6" font-weight="bold" fill="#231f20" stroke="#231f20" stroke-width="0.22">1000</text>
<line x1="509.2" y1="362.49" x2="510.7" y2="362.49" stroke="#3c3c3c" stroke-width="1"/>
<line x1="508.3" y1="341.67" x2="510.7" y2="341.67" stroke="#3c3c3c" stroke-width="1"/>
<text transform="translate(507.8 344.69) scale(1 1.12)" x="-18.78" font-family="Liberation Sans" font-size="8.6" font-weight="bold" fill="#231f20" stroke="#231f20" stroke-width="0.22">2000</text>
<line x1="509.2" y1="320.86" x2="510.7" y2="320.86" stroke="#3c3c3c" stroke-width="1"/>
<line x1="508.3" y1="300.04" x2="510.7" y2="300.04" stroke="#3c3c3c" stroke-width="1"/>
<text transform="translate(507.8 303.05) scale(1 1.12)" x="-18.78" font-family="Liberation Sans" font-size="8.6" font-weight="bold" fill="#231f20" stroke="#231f20" stroke-width="0.22">3000</text>
<line x1="509.2" y1="279.22" x2="510.7" y2="279.22" stroke="#3c3c3c" stroke-width="1"/>
<line x1="508.3" y1="258.4" x2="510.7" y2="258.4" stroke="#3c3c3c" stroke-width="1"/>
<text transform="translate(507.8 261.41) scale(1 1.12)" x="-18.78" font-family="Liberation Sans" font-size="8.6" font-weight="bold" fill="#231f20" stroke="#231f20" stroke-width="0.22">4000</text>
<line x1="550.3" y1="424.95" x2="550.3" y2="426.75" stroke="#3c3c3c" stroke-width="1"/>
<line x1="640.3" y1="424.95" x2="640.3" y2="426.75" stroke="#3c3c3c" stroke-width="1"/>
<text transform="translate(550.2 437.8) scale(1 1.06)" x="-9.04" font-family="Liberation Sans" font-size="11.7" font-weight="bold" fill="#231f20" stroke="#231f20" stroke-width="0.22">WT</text>
<text transform="translate(644.6 437.8) scale(1 1.06)" x="-24.37" font-family="Liberation Sans" font-size="12.2" font-weight="bold" font-style="italic" fill="#231f20" stroke="#231f20" stroke-width="0.22">fur::cam</text>
<line x1="533.65" y1="346" x2="533.65" y2="350.4" stroke="#2e2e2e" stroke-width="1"/>
<line x1="533.65" y1="358.8" x2="533.65" y2="360.5" stroke="#2e2e2e" stroke-width="1"/>
<line x1="528.4" y1="346" x2="538.5" y2="346" stroke="#2e2e2e" stroke-width="1"/>
<line x1="528.4" y1="360.5" x2="538.5" y2="360.5" stroke="#2e2e2e" stroke-width="1"/>
<rect x="522.4" y="350.4" width="22.5" height="8.4" fill="#8b9194" stroke="#2e2e2e" stroke-width="1"/>
<line x1="522.4" y1="351.8" x2="544.9" y2="351.8" stroke="#2e2e2e" stroke-width="1.1"/>
<line x1="567.45" y1="279.4" x2="567.45" y2="285.3" stroke="#2e2e2e" stroke-width="1"/>
<line x1="567.45" y1="306.4" x2="567.45" y2="328.1" stroke="#2e2e2e" stroke-width="1"/>
<line x1="562.2" y1="279.4" x2="572.3" y2="279.4" stroke="#2e2e2e" stroke-width="1"/>
<line x1="562.2" y1="328.1" x2="572.3" y2="328.1" stroke="#2e2e2e" stroke-width="1"/>
<rect x="556.2" y="285.3" width="22.5" height="21.1" fill="#ee8f77" stroke="#2e2e2e" stroke-width="1"/>
<line x1="556.2" y1="293.5" x2="578.7" y2="293.5" stroke="#2e2e2e" stroke-width="1.1"/>
<line x1="623.75" y1="309.6" x2="623.75" y2="321.6" stroke="#2e2e2e" stroke-width="1"/>
<line x1="623.75" y1="334.3" x2="623.75" y2="343.5" stroke="#2e2e2e" stroke-width="1"/>
<line x1="619" y1="309.6" x2="629" y2="309.6" stroke="#2e2e2e" stroke-width="1"/>
<line x1="619" y1="343.5" x2="629" y2="343.5" stroke="#2e2e2e" stroke-width="1"/>
<rect x="612.6" y="321.6" width="22.3" height="12.7" fill="#8b9194" stroke="#2e2e2e" stroke-width="1"/>
<line x1="612.6" y1="331.6" x2="634.9" y2="331.6" stroke="#2e2e2e" stroke-width="1.1"/>
<line x1="657.7" y1="316.3" x2="657.7" y2="323" stroke="#2e2e2e" stroke-width="1"/>
<line x1="657.7" y1="336.5" x2="657.7" y2="339.3" stroke="#2e2e2e" stroke-width="1"/>
<line x1="652.8" y1="316.3" x2="662.8" y2="316.3" stroke="#2e2e2e" stroke-width="1"/>
<line x1="652.8" y1="339.3" x2="662.8" y2="339.3" stroke="#2e2e2e" stroke-width="1"/>
<rect x="646.7" y="323" width="22" height="13.5" fill="#ee8f77" stroke="#2e2e2e" stroke-width="1"/>
<line x1="646.7" y1="331.3" x2="668.7" y2="331.3" stroke="#2e2e2e" stroke-width="1.1"/>
<line x1="533.3" y1="274" x2="567.1" y2="274" stroke="#333" stroke-width="1.1"/>
<path d="M542.4 267.4L542.4 264.9M542.4 267.4L544.78 266.63M542.4 267.4L543.87 269.42M542.4 267.4L540.93 269.42M542.4 267.4L540.02 266.63M547.8 267.4L547.8 264.9M547.8 267.4L550.18 266.63M547.8 267.4L549.27 269.42M547.8 267.4L546.33 269.42M547.8 267.4L545.42 266.63M553.2 267.4L553.2 264.9M553.2 267.4L555.58 266.63M553.2 267.4L554.67 269.42M553.2 267.4L551.73 269.42M553.2 267.4L550.82 266.63M558.6 267.4L558.6 264.9M558.6 267.4L560.98 266.63M558.6 267.4L560.07 269.42M558.6 267.4L557.13 269.42M558.6 267.4L556.22 266.63" stroke="#231f20" stroke-width="1.21" stroke-linecap="round" fill="none"/>
<line x1="624.1" y1="303.5" x2="657.9" y2="303.5" stroke="#333" stroke-width="1.1"/>
<text transform="translate(640.8 300.72) scale(1 1.06)" x="-6.44" font-family="Liberation Sans" font-size="10.8" font-weight="bold" fill="#231f20" stroke="#231f20" stroke-width="0.22">ns</text>
<rect x="561.5" y="252.3" width="7.4" height="7.4" fill="#8b9194" stroke="#333" stroke-width="0.9"/>
<text transform="translate(570.8 258.5) scale(1 1.06)" x="-0.37" font-family="Liberation Sans" font-size="8.9" font-weight="bold" fill="#231f20" stroke="#231f20" stroke-width="0.22">Control</text>
<rect x="607.3" y="252.3" width="7.4" height="7.4" fill="#ee8f77" stroke="#333" stroke-width="0.9"/>
<text transform="translate(616.5 258.5) scale(1 1.06)" x="-0.35" font-family="Liberation Sans" font-size="8.9" font-weight="bold" fill="#231f20" stroke="#231f20" stroke-width="0.22">-Fe</text>
<text transform="translate(484.2 391.5) rotate(-90) scale(1 1.06)" x="-0.83" y="0" font-family="Liberation Sans" font-size="12.45" font-weight="bold" stroke="#231f20" stroke-width="0.22" fill="#231f20">RFU per 10<tspan font-size="6.6" dy="-5.6">9</tspan><tspan dy="5.6">&#160;cells</tspan></text>
<line x1="48.5" y1="462.8" x2="48.5" y2="630.85" stroke="#3c3c3c" stroke-width="1.15"/>
<line x1="46.3" y1="628.65" x2="48.5" y2="628.65" stroke="#3c3c3c" stroke-width="1"/>
<text transform="translate(45.7 631.66) scale(1 1.12)" x="-4.43" font-family="Liberation Sans" font-size="8.6" font-weight="bold" fill="#231f20" stroke="#231f20" stroke-width="0.22">0</text>
<line x1="47.1" y1="616.8" x2="48.5" y2="616.8" stroke="#3c3c3c" stroke-width="1"/>
<line x1="46.3" y1="604.96" x2="48.5" y2="604.96" stroke="#3c3c3c" stroke-width="1"/>
<text transform="translate(45.7 607.97) scale(1 1.12)" x="-11.61" font-family="Liberation Sans" font-size="8.6" font-weight="bold" fill="#231f20" stroke="#231f20" stroke-width="0.22">0.2</text>
<line x1="47.1" y1="593.11" x2="48.5" y2="593.11" stroke="#3c3c3c" stroke-width="1"/>
<line x1="46.3" y1="581.26" x2="48.5" y2="581.26" stroke="#3c3c3c" stroke-width="1"/>
<text transform="translate(45.7 584.28) scale(1 1.12)" x="-11.91" font-family="Liberation Sans" font-size="8.6" font-weight="bold" fill="#231f20" stroke="#231f20" stroke-width="0.22">0.4</text>
<line x1="47.1" y1="569.42" x2="48.5" y2="569.42" stroke="#3c3c3c" stroke-width="1"/>
<line x1="46.3" y1="557.57" x2="48.5" y2="557.57" stroke="#3c3c3c" stroke-width="1"/>
<text transform="translate(45.7 560.58) scale(1 1.12)" x="-11.64" font-family="Liberation Sans" font-size="8.6" font-weight="bold" fill="#231f20" stroke="#231f20" stroke-width="0.22">0.6</text>
<line x1="47.1" y1="545.73" x2="48.5" y2="545.73" stroke="#3c3c3c" stroke-width="1"/>
<line x1="46.3" y1="533.88" x2="48.5" y2="533.88" stroke="#3c3c3c" stroke-width="1"/>
<text transform="translate(45.7 536.89) scale(1 1.12)" x="-11.69" font-family="Liberation Sans" font-size="8.6" font-weight="bold" fill="#231f20" stroke="#231f20" stroke-width="0.22">0.8</text>
<line x1="47.1" y1="522.03" x2="48.5" y2="522.03" stroke="#3c3c3c" stroke-width="1"/>
<line x1="46.3" y1="510.19" x2="48.5" y2="510.19" stroke="#3c3c3c" stroke-width="1"/>
<text transform="translate(45.7 513.2) scale(1 1.12)" x="-11.6" font-family="Liberation Sans" font-size="8.6" font-weight="bold" fill="#231f20" stroke="#231f20" stroke-width="0.22">1.0</text>
<line x1="47.1" y1="498.34" x2="48.5" y2="498.34" stroke="#3c3c3c" stroke-width="1"/>
<line x1="46.3" y1="486.49" x2="48.5" y2="486.49" stroke="#3c3c3c" stroke-width="1"/>
<text transform="translate(45.7 489.51) scale(1 1.12)" x="-11.61" font-family="Liberation Sans" font-size="8.6" font-weight="bold" fill="#231f20" stroke="#231f20" stroke-width="0.22">1.2</text>
<line x1="47.1" y1="474.65" x2="48.5" y2="474.65" stroke="#3c3c3c" stroke-width="1"/>
<line x1="46.3" y1="462.8" x2="48.5" y2="462.8" stroke="#3c3c3c" stroke-width="1"/>
<text transform="translate(45.7 465.81) scale(1 1.12)" x="-11.91" font-family="Liberation Sans" font-size="8.6" font-weight="bold" fill="#231f20" stroke="#231f20" stroke-width="0.22">1.4</text>
<line x1="46.3" y1="628.65" x2="148.9" y2="628.65" stroke="#3c3c3c" stroke-width="1.15"/>
<line x1="151" y1="628.65" x2="218.4" y2="628.65" stroke="#3c3c3c" stroke-width="1.15"/>
<line x1="148.5" y1="627.15" x2="148.5" y2="630.15" stroke="#3c3c3c" stroke-width="0.9"/>
<line x1="151.4" y1="627.15" x2="151.4" y2="630.15" stroke="#3c3c3c" stroke-width="0.9"/>
<line x1="48.2" y1="628.65" x2="48.2" y2="630.65" stroke="#3c3c3c" stroke-width="1"/>
<line x1="63.62" y1="628.65" x2="63.62" y2="630.65" stroke="#3c3c3c" stroke-width="1"/>
<line x1="79.04" y1="628.65" x2="79.04" y2="630.65" stroke="#3c3c3c" stroke-width="1"/>
<line x1="94.46" y1="628.65" x2="94.46" y2="630.65" stroke="#3c3c3c" stroke-width="1"/>
<line x1="109.88" y1="628.65" x2="109.88" y2="630.65" stroke="#3c3c3c" stroke-width="1"/>
<line x1="125.3" y1="628.65" x2="125.3" y2="630.65" stroke="#3c3c3c" stroke-width="1"/>
<line x1="140.72" y1="628.65" x2="140.72" y2="630.65" stroke="#3c3c3c" stroke-width="1"/>
<line x1="156.9" y1="628.65" x2="156.9" y2="630.65" stroke="#3c3c3c" stroke-width="1"/>
<line x1="172.2" y1="628.65" x2="172.2" y2="630.65" stroke="#3c3c3c" stroke-width="1"/>
<line x1="187.5" y1="628.65" x2="187.5" y2="630.65" stroke="#3c3c3c" stroke-width="1"/>
<line x1="202.8" y1="628.65" x2="202.8" y2="630.65" stroke="#3c3c3c" stroke-width="1"/>
<line x1="218.1" y1="628.65" x2="218.1" y2="630.65" stroke="#3c3c3c" stroke-width="1"/>
<line x1="55.91" y1="628.65" x2="55.91" y2="629.85" stroke="#3c3c3c" stroke-width="0.9"/>
<line x1="71.33" y1="628.65" x2="71.33" y2="629.85" stroke="#3c3c3c" stroke-width="0.9"/>
<line x1="86.75" y1="628.65" x2="86.75" y2="629.85" stroke="#3c3c3c" stroke-width="0.9"/>
<line x1="102.17" y1="628.65" x2="102.17" y2="629.85" stroke="#3c3c3c" stroke-width="0.9"/>
<line x1="117.59" y1="628.65" x2="117.59" y2="629.85" stroke="#3c3c3c" stroke-width="0.9"/>
<line x1="133.01" y1="628.65" x2="133.01" y2="629.85" stroke="#3c3c3c" stroke-width="0.9"/>
<line x1="164.55" y1="628.65" x2="164.55" y2="629.85" stroke="#3c3c3c" stroke-width="0.9"/>
<line x1="179.85" y1="628.65" x2="179.85" y2="629.85" stroke="#3c3c3c" stroke-width="0.9"/>
<line x1="195.15" y1="628.65" x2="195.15" y2="629.85" stroke="#3c3c3c" stroke-width="0.9"/>
<line x1="210.45" y1="628.65" x2="210.45" y2="629.85" stroke="#3c3c3c" stroke-width="0.9"/>
<text transform="translate(48.2 638.9) scale(1 1.12)" x="-2.39" font-family="Liberation Sans" font-size="8.6" font-weight="bold" fill="#231f20" stroke="#231f20" stroke-width="0.22">0</text>
<text transform="translate(63.62 638.9) scale(1 1.12)" x="-6.03" font-family="Liberation Sans" font-size="8.6" font-weight="bold" fill="#231f20" stroke="#231f20" stroke-width="0.22">0.1</text>
<text transform="translate(79.04 638.9) scale(1 1.12)" x="-5.98" font-family="Liberation Sans" font-size="8.6" font-weight="bold" fill="#231f20" stroke="#231f20" stroke-width="0.22">0.2</text>
<text transform="translate(94.46 638.9) scale(1 1.12)" x="-5.99" font-family="Liberation Sans" font-size="8.6" font-weight="bold" fill="#231f20" stroke="#231f20" stroke-width="0.22">0.3</text>
<text transform="translate(109.88 638.9) scale(1 1.12)" x="-6.12" font-family="Liberation Sans" font-size="8.6" font-weight="bold" fill="#231f20" stroke="#231f20" stroke-width="0.22">0.4</text>
<text transform="translate(125.3 638.9) scale(1 1.12)" x="-6.03" font-family="Liberation Sans" font-size="8.6" font-weight="bold" fill="#231f20" stroke="#231f20" stroke-width="0.22">0.5</text>
<text transform="translate(140.72 638.9) scale(1 1.12)" x="-5.99" font-family="Liberation Sans" font-size="8.6" font-weight="bold" fill="#231f20" stroke="#231f20" stroke-width="0.22">0.6</text>
<text transform="translate(156.9 638.9) scale(1 1.12)" x="-2.54" font-family="Liberation Sans" font-size="8.6" font-weight="bold" fill="#231f20" stroke="#231f20" stroke-width="0.22">1</text>
<text transform="translate(172.2 638.9) scale(1 1.12)" x="-2.37" font-family="Liberation Sans" font-size="8.6" font-weight="bold" fill="#231f20" stroke="#231f20" stroke-width="0.22">2</text>
<text transform="translate(187.5 638.9) scale(1 1.12)" x="-2.33" font-family="Liberation Sans" font-size="8.6" font-weight="bold" fill="#231f20" stroke="#231f20" stroke-width="0.22">3</text>
<text transform="translate(202.8 638.9) scale(1 1.12)" x="-2.43" font-family="Liberation Sans" font-size="8.6" font-weight="bold" fill="#231f20" stroke="#231f20" stroke-width="0.22">4</text>
<text transform="translate(218.1 638.9) scale(1 1.12)" x="-2.4" font-family="Liberation Sans" font-size="8.6" font-weight="bold" fill="#231f20" stroke="#231f20" stroke-width="0.22">5</text>
<polyline points="48.5,628.65 60.7,625 72.7,616.3 96.9,609.5 144.6,593 148.9,587.88" fill="none" stroke="#2a2a2a" stroke-width="1"/>
<polyline points="151,585.38 160.9,573.6 179.9,552.3 218.2,541.8" fill="none" stroke="#2a2a2a" stroke-width="1"/>
<polyline points="48.5,628.65 60.7,615.8 72.7,609.5 96.9,592.1 144.6,575 148.9,566.43" fill="none" stroke="#2a2a2a" stroke-width="1"/>
<polyline points="151,562.24 160.9,542.5 179.9,514.7 218.2,503.7" fill="none" stroke="#2a2a2a" stroke-width="1"/>
<line x1="60.7" y1="612.6" x2="60.7" y2="619" stroke="#333" stroke-width="1"/>
<line x1="58.5" y1="612.6" x2="62.9" y2="612.6" stroke="#333" stroke-width="1"/>
<line x1="58.5" y1="619" x2="62.9" y2="619" stroke="#333" stroke-width="1"/>
<line x1="72.7" y1="606.5" x2="72.7" y2="612.5" stroke="#333" stroke-width="1"/>
<line x1="70.5" y1="606.5" x2="74.9" y2="606.5" stroke="#333" stroke-width="1"/>
<line x1="70.5" y1="612.5" x2="74.9" y2="612.5" stroke="#333" stroke-width="1"/>
<line x1="96.9" y1="587.5" x2="96.9" y2="596.1" stroke="#333" stroke-width="1"/>
<line x1="94.7" y1="587.5" x2="99.1" y2="587.5" stroke="#333" stroke-width="1"/>
<line x1="94.7" y1="596.1" x2="99.1" y2="596.1" stroke="#333" stroke-width="1"/>
<line x1="144.6" y1="569.5" x2="144.6" y2="580.6" stroke="#333" stroke-width="1"/>
<line x1="142.4" y1="569.5" x2="146.8" y2="569.5" stroke="#333" stroke-width="1"/>
<line x1="142.4" y1="580.6" x2="146.8" y2="580.6" stroke="#333" stroke-width="1"/>
<line x1="144.6" y1="588.8" x2="144.6" y2="598" stroke="#333" stroke-width="1"/>
<line x1="142.4" y1="588.8" x2="146.8" y2="588.8" stroke="#333" stroke-width="1"/>
<line x1="142.4" y1="598" x2="146.8" y2="598" stroke="#333" stroke-width="1"/>
<line x1="160.9" y1="536.5" x2="160.9" y2="548.2" stroke="#333" stroke-width="1"/>
<line x1="158.7" y1="536.5" x2="163.1" y2="536.5" stroke="#333" stroke-width="1"/>
<line x1="158.7" y1="548.2" x2="163.1" y2="548.2" stroke="#333" stroke-width="1"/>
<line x1="179.9" y1="509.2" x2="179.9" y2="520.2" stroke="#333" stroke-width="1"/>
<line x1="177.7" y1="509.2" x2="182.1" y2="509.2" stroke="#333" stroke-width="1"/>
<line x1="177.7" y1="520.2" x2="182.1" y2="520.2" stroke="#333" stroke-width="1"/>
<line x1="218.2" y1="497.5" x2="218.2" y2="509.6" stroke="#333" stroke-width="1"/>
<line x1="216" y1="497.5" x2="220.4" y2="497.5" stroke="#333" stroke-width="1"/>
<line x1="216" y1="509.6" x2="220.4" y2="509.6" stroke="#333" stroke-width="1"/>
<line x1="179.9" y1="548.4" x2="179.9" y2="556.4" stroke="#333" stroke-width="1"/>
<line x1="177.7" y1="548.4" x2="182.1" y2="548.4" stroke="#333" stroke-width="1"/>
<line x1="177.7" y1="556.4" x2="182.1" y2="556.4" stroke="#333" stroke-width="1"/>
<line x1="218.2" y1="538.4" x2="218.2" y2="545.3" stroke="#333" stroke-width="1"/>
<line x1="216" y1="538.4" x2="220.4" y2="538.4" stroke="#333" stroke-width="1"/>
<line x1="216" y1="545.3" x2="220.4" y2="545.3" stroke="#333" stroke-width="1"/>
<line x1="160.9" y1="570.8" x2="160.9" y2="576.5" stroke="#333" stroke-width="1"/>
<line x1="158.7" y1="570.8" x2="163.1" y2="570.8" stroke="#333" stroke-width="1"/>
<line x1="158.7" y1="576.5" x2="163.1" y2="576.5" stroke="#333" stroke-width="1"/>
<circle cx="60.7" cy="625" r="2.75" fill="#8b9194" stroke="#333" stroke-width="0.9"/>
<circle cx="72.7" cy="616.3" r="2.75" fill="#8b9194" stroke="#333" stroke-width="0.9"/>
<circle cx="96.9" cy="609.5" r="2.75" fill="#8b9194" stroke="#333" stroke-width="0.9"/>
<circle cx="144.6" cy="593" r="2.75" fill="#8b9194" stroke="#333" stroke-width="0.9"/>
<circle cx="160.9" cy="573.6" r="2.75" fill="#8b9194" stroke="#333" stroke-width="0.9"/>
<circle cx="179.9" cy="552.3" r="2.75" fill="#8b9194" stroke="#333" stroke-width="0.9"/>
<circle cx="218.2" cy="541.8" r="2.75" fill="#8b9194" stroke="#333" stroke-width="0.9"/>
<rect x="58" y="613.1" width="5.4" height="5.4" fill="#b0779f" stroke="#333" stroke-width="0.9"/>
<rect x="70" y="606.8" width="5.4" height="5.4" fill="#b0779f" stroke="#333" stroke-width="0.9"/>
<rect x="94.2" y="589.4" width="5.4" height="5.4" fill="#b0779f" stroke="#333" stroke-width="0.9"/>
<rect x="141.9" y="572.3" width="5.4" height="5.4" fill="#b0779f" stroke="#333" stroke-width="0.9"/>
<rect x="158.2" y="539.8" width="5.4" height="5.4" fill="#b0779f" stroke="#333" stroke-width="0.9"/>
<rect x="177.2" y="512" width="5.4" height="5.4" fill="#b0779f" stroke="#333" stroke-width="0.9"/>
<rect x="215.5" y="501" width="5.4" height="5.4" fill="#b0779f" stroke="#333" stroke-width="0.9"/>
<path d="M60.7 599.46L60.7 597.09M60.7 599.46L62.95 598.73M60.7 599.46L62.09 601.38M60.7 599.46L59.31 601.38M60.7 599.46L58.45 598.73" stroke="#231f20" stroke-width="1.15" stroke-linecap="round" fill="none"/>
<text transform="translate(72.8 597.42) scale(1 1.06)" x="-6.44" font-family="Liberation Sans" font-size="10.8" font-weight="bold" fill="#231f20" stroke="#231f20" stroke-width="0.22">ns</text>
<text transform="translate(96.7 579.92) scale(1 1.06)" x="-6.44" font-family="Liberation Sans" font-size="10.8" font-weight="bold" fill="#231f20" stroke="#231f20" stroke-width="0.22">ns</text>
<path d="M144.6 558.66L144.6 556.29M144.6 558.66L146.85 557.93M144.6 558.66L145.99 560.58M144.6 558.66L143.21 560.58M144.6 558.66L142.35 557.93" stroke="#231f20" stroke-width="1.15" stroke-linecap="round" fill="none"/>
<path d="M158.44 526.66L158.44 524.29M158.44 526.66L160.69 525.93M158.44 526.66L159.83 528.58M158.44 526.66L157.05 528.58M158.44 526.66L156.19 525.93M163.56 526.66L163.56 524.29M163.56 526.66L165.81 525.93M163.56 526.66L164.95 528.58M163.56 526.66L162.17 528.58M163.56 526.66L161.31 525.93" stroke="#231f20" stroke-width="1.15" stroke-linecap="round" fill="none"/>
<path d="M177.54 498.46L177.54 496.09M177.54 498.46L179.79 497.73M177.54 498.46L178.93 500.38M177.54 498.46L176.15 500.38M177.54 498.46L175.29 497.73M182.66 498.46L182.66 496.09M182.66 498.46L184.91 497.73M182.66 498.46L184.05 500.38M182.66 498.46L181.27 500.38M182.66 498.46L180.41 497.73" stroke="#231f20" stroke-width="1.15" stroke-linecap="round" fill="none"/>
<path d="M215.54 487.46L215.54 485.09M215.54 487.46L217.79 486.73M215.54 487.46L216.93 489.38M215.54 487.46L214.15 489.38M215.54 487.46L213.29 486.73M220.66 487.46L220.66 485.09M220.66 487.46L222.91 486.73M220.66 487.46L222.05 489.38M220.66 487.46L219.27 489.38M220.66 487.46L218.41 486.73" stroke="#231f20" stroke-width="1.15" stroke-linecap="round" fill="none"/>
<circle cx="69" cy="467.3" r="2.8" fill="#8b9194" stroke="#444" stroke-width="0.8"/>
<text transform="translate(73.6 470.1) scale(1 1.06)" x="-0.36" font-family="Liberation Sans" font-size="8.8" font-weight="bold" fill="#231f20" stroke="#231f20" stroke-width="0.22">Control</text>
<rect x="112.6" y="464.6" width="5.6" height="5.4" fill="#b0779f" stroke="#333" stroke-width="0.8"/>
<text transform="translate(120.7 470.1) scale(1 1.06)" x="-0.59" font-family="Liberation Sans" font-size="8.75" font-weight="bold" fill="#231f20" stroke="#231f20" stroke-width="0.22">Predicted ArgR site</text>
<text transform="translate(102.8 651.3) scale(1 1.06)" x="-0.85" font-family="Liberation Sans" font-size="12.1" font-weight="bold" fill="#231f20" stroke="#231f20" stroke-width="0.22">μg of ArgR</text>
<text transform="translate(24.5 560.5) rotate(-90) scale(1 1.06)" x="-0.5" y="0" font-family="Liberation Sans" font-size="12.3" font-weight="bold" stroke="#231f20" stroke-width="0.22" fill="#231f20">OD<tspan font-size="7.2" dy="3.7">450</tspan></text>
<line x1="281.5" y1="463.1" x2="281.5" y2="630.7" stroke="#3c3c3c" stroke-width="1.15"/>
<line x1="279.3" y1="628.5" x2="281.5" y2="628.5" stroke="#3c3c3c" stroke-width="1"/>
<text transform="translate(278.7 631.51) scale(1 1.12)" x="-4.43" font-family="Liberation Sans" font-size="8.6" font-weight="bold" fill="#231f20" stroke="#231f20" stroke-width="0.22">0</text>
<line x1="280.1" y1="616.69" x2="281.5" y2="616.69" stroke="#3c3c3c" stroke-width="1"/>
<line x1="279.3" y1="604.87" x2="281.5" y2="604.87" stroke="#3c3c3c" stroke-width="1"/>
<text transform="translate(278.7 607.88) scale(1 1.12)" x="-11.61" font-family="Liberation Sans" font-size="8.6" font-weight="bold" fill="#231f20" stroke="#231f20" stroke-width="0.22">0.2</text>
<line x1="280.1" y1="593.06" x2="281.5" y2="593.06" stroke="#3c3c3c" stroke-width="1"/>
<line x1="279.3" y1="581.24" x2="281.5" y2="581.24" stroke="#3c3c3c" stroke-width="1"/>
<text transform="translate(278.7 584.26) scale(1 1.12)" x="-11.91" font-family="Liberation Sans" font-size="8.6" font-weight="bold" fill="#231f20" stroke="#231f20" stroke-width="0.22">0.4</text>
<line x1="280.1" y1="569.43" x2="281.5" y2="569.43" stroke="#3c3c3c" stroke-width="1"/>
<line x1="279.3" y1="557.61" x2="281.5" y2="557.61" stroke="#3c3c3c" stroke-width="1"/>
<text transform="translate(278.7 560.63) scale(1 1.12)" x="-11.64" font-family="Liberation Sans" font-size="8.6" font-weight="bold" fill="#231f20" stroke="#231f20" stroke-width="0.22">0.6</text>
<line x1="280.1" y1="545.8" x2="281.5" y2="545.8" stroke="#3c3c3c" stroke-width="1"/>
<line x1="279.3" y1="533.99" x2="281.5" y2="533.99" stroke="#3c3c3c" stroke-width="1"/>
<text transform="translate(278.7 537) scale(1 1.12)" x="-11.69" font-family="Liberation Sans" font-size="8.6" font-weight="bold" fill="#231f20" stroke="#231f20" stroke-width="0.22">0.8</text>
<line x1="280.1" y1="522.17" x2="281.5" y2="522.17" stroke="#3c3c3c" stroke-width="1"/>
<line x1="279.3" y1="510.36" x2="281.5" y2="510.36" stroke="#3c3c3c" stroke-width="1"/>
<text transform="translate(278.7 513.37) scale(1 1.12)" x="-11.6" font-family="Liberation Sans" font-size="8.6" font-weight="bold" fill="#231f20" stroke="#231f20" stroke-width="0.22">1.0</text>
<line x1="280.1" y1="498.54" x2="281.5" y2="498.54" stroke="#3c3c3c" stroke-width="1"/>
<line x1="279.3" y1="486.73" x2="281.5" y2="486.73" stroke="#3c3c3c" stroke-width="1"/>
<text transform="translate(278.7 489.74) scale(1 1.12)" x="-11.61" font-family="Liberation Sans" font-size="8.6" font-weight="bold" fill="#231f20" stroke="#231f20" stroke-width="0.22">1.2</text>
<line x1="280.1" y1="474.91" x2="281.5" y2="474.91" stroke="#3c3c3c" stroke-width="1"/>
<line x1="279.3" y1="463.1" x2="281.5" y2="463.1" stroke="#3c3c3c" stroke-width="1"/>
<text transform="translate(278.7 466.11) scale(1 1.12)" x="-11.91" font-family="Liberation Sans" font-size="8.6" font-weight="bold" fill="#231f20" stroke="#231f20" stroke-width="0.22">1.4</text>
<line x1="279.3" y1="628.5" x2="406.8" y2="628.5" stroke="#3c3c3c" stroke-width="1.15"/>
<line x1="408.9" y1="628.5" x2="451.5" y2="628.5" stroke="#3c3c3c" stroke-width="1.15"/>
<line x1="406.4" y1="627" x2="406.4" y2="630" stroke="#3c3c3c" stroke-width="0.9"/>
<line x1="409.3" y1="627" x2="409.3" y2="630" stroke="#3c3c3c" stroke-width="0.9"/>
<line x1="281.6" y1="628.5" x2="281.6" y2="630.5" stroke="#3c3c3c" stroke-width="1"/>
<line x1="304.4" y1="628.5" x2="304.4" y2="630.5" stroke="#3c3c3c" stroke-width="1"/>
<line x1="327.2" y1="628.5" x2="327.2" y2="630.5" stroke="#3c3c3c" stroke-width="1"/>
<line x1="350" y1="628.5" x2="350" y2="630.5" stroke="#3c3c3c" stroke-width="1"/>
<line x1="372.8" y1="628.5" x2="372.8" y2="630.5" stroke="#3c3c3c" stroke-width="1"/>
<line x1="395.6" y1="628.5" x2="395.6" y2="630.5" stroke="#3c3c3c" stroke-width="1"/>
<line x1="419" y1="628.5" x2="419" y2="630.5" stroke="#3c3c3c" stroke-width="1"/>
<line x1="450.8" y1="628.5" x2="450.8" y2="630.5" stroke="#3c3c3c" stroke-width="1"/>
<line x1="293" y1="628.5" x2="293" y2="629.7" stroke="#3c3c3c" stroke-width="0.9"/>
<line x1="315.8" y1="628.5" x2="315.8" y2="629.7" stroke="#3c3c3c" stroke-width="0.9"/>
<line x1="338.6" y1="628.5" x2="338.6" y2="629.7" stroke="#3c3c3c" stroke-width="0.9"/>
<line x1="361.4" y1="628.5" x2="361.4" y2="629.7" stroke="#3c3c3c" stroke-width="0.9"/>
<line x1="384.2" y1="628.5" x2="384.2" y2="629.7" stroke="#3c3c3c" stroke-width="0.9"/>
<line x1="434.9" y1="628.5" x2="434.9" y2="629.7" stroke="#3c3c3c" stroke-width="0.9"/>
<text transform="translate(281.6 638.8) scale(1 1.12)" x="-2.39" font-family="Liberation Sans" font-size="8.6" font-weight="bold" fill="#231f20" stroke="#231f20" stroke-width="0.22">0</text>
<text transform="translate(304.4 638.8) scale(1 1.12)" x="-8.42" font-family="Liberation Sans" font-size="8.6" font-weight="bold" fill="#231f20" stroke="#231f20" stroke-width="0.22">0.05</text>
<text transform="translate(327.2 638.8) scale(1 1.12)" x="-8.36" font-family="Liberation Sans" font-size="8.6" font-weight="bold" fill="#231f20" stroke="#231f20" stroke-width="0.22">0.10</text>
<text transform="translate(350 638.8) scale(1 1.12)" x="-8.42" font-family="Liberation Sans" font-size="8.6" font-weight="bold" fill="#231f20" stroke="#231f20" stroke-width="0.22">0.15</text>
<text transform="translate(372.8 638.8) scale(1 1.12)" x="-8.36" font-family="Liberation Sans" font-size="8.6" font-weight="bold" fill="#231f20" stroke="#231f20" stroke-width="0.22">0.20</text>
<text transform="translate(395.6 638.8) scale(1 1.12)" x="-8.42" font-family="Liberation Sans" font-size="8.6" font-weight="bold" fill="#231f20" stroke="#231f20" stroke-width="0.22">0.25</text>
<text transform="translate(419 638.8) scale(1 1.12)" x="-6.03" font-family="Liberation Sans" font-size="8.6" font-weight="bold" fill="#231f20" stroke="#231f20" stroke-width="0.22">0.5</text>
<text transform="translate(450.8 638.8) scale(1 1.12)" x="-6.07" font-family="Liberation Sans" font-size="8.6" font-weight="bold" fill="#231f20" stroke="#231f20" stroke-width="0.22">1.0</text>
<polyline points="281.5,628.5 288.9,627.6 295.7,626.9 310.1,625.7 338.6,625.3 395.2,624.2 406.8,623.52" fill="none" stroke="#2a2a2a" stroke-width="1"/>
<polyline points="408.9,623.39 419,622.8 450.8,620.7" fill="none" stroke="#2a2a2a" stroke-width="1"/>
<polyline points="281.5,628.5 288.9,624.5 295.7,622.9 310.1,610.6 338.6,602 395.2,576.7 406.8,560.08" fill="none" stroke="#2a2a2a" stroke-width="1"/>
<polyline points="408.9,557.07 419,542.6 450.8,495.6" fill="none" stroke="#2a2a2a" stroke-width="1"/>
<line x1="310.1" y1="604.5" x2="310.1" y2="616.5" stroke="#333" stroke-width="1"/>
<line x1="307.9" y1="604.5" x2="312.3" y2="604.5" stroke="#333" stroke-width="1"/>
<line x1="307.9" y1="616.5" x2="312.3" y2="616.5" stroke="#333" stroke-width="1"/>
<line x1="338.6" y1="591.6" x2="338.6" y2="612.5" stroke="#333" stroke-width="1"/>
<line x1="336.4" y1="591.6" x2="340.8" y2="591.6" stroke="#333" stroke-width="1"/>
<line x1="336.4" y1="612.5" x2="340.8" y2="612.5" stroke="#333" stroke-width="1"/>
<line x1="395.2" y1="559.5" x2="395.2" y2="593.6" stroke="#333" stroke-width="1"/>
<line x1="393" y1="559.5" x2="397.4" y2="559.5" stroke="#333" stroke-width="1"/>
<line x1="393" y1="593.6" x2="397.4" y2="593.6" stroke="#333" stroke-width="1"/>
<line x1="419" y1="520.9" x2="419" y2="564.5" stroke="#333" stroke-width="1"/>
<line x1="416.8" y1="520.9" x2="421.2" y2="520.9" stroke="#333" stroke-width="1"/>
<line x1="416.8" y1="564.5" x2="421.2" y2="564.5" stroke="#333" stroke-width="1"/>
<line x1="450.8" y1="487.3" x2="450.8" y2="504" stroke="#333" stroke-width="1"/>
<line x1="448.6" y1="487.3" x2="453" y2="487.3" stroke="#333" stroke-width="1"/>
<line x1="448.6" y1="504" x2="453" y2="504" stroke="#333" stroke-width="1"/>
<circle cx="288.9" cy="627.6" r="2.75" fill="#8b9194" stroke="#333" stroke-width="0.9"/>
<circle cx="295.7" cy="626.9" r="2.75" fill="#8b9194" stroke="#333" stroke-width="0.9"/>
<circle cx="310.1" cy="625.7" r="2.75" fill="#8b9194" stroke="#333" stroke-width="0.9"/>
<circle cx="338.6" cy="625.3" r="2.75" fill="#8b9194" stroke="#333" stroke-width="0.9"/>
<circle cx="395.2" cy="624.2" r="2.75" fill="#8b9194" stroke="#333" stroke-width="0.9"/>
<circle cx="419" cy="622.8" r="2.75" fill="#8b9194" stroke="#333" stroke-width="0.9"/>
<circle cx="450.8" cy="620.7" r="2.75" fill="#8b9194" stroke="#333" stroke-width="0.9"/>
<rect x="286.2" y="621.8" width="5.4" height="5.4" fill="#4e86be" stroke="#333" stroke-width="0.9"/>
<rect x="293" y="620.2" width="5.4" height="5.4" fill="#4e86be" stroke="#333" stroke-width="0.9"/>
<rect x="307.4" y="607.9" width="5.4" height="5.4" fill="#4e86be" stroke="#333" stroke-width="0.9"/>
<rect x="335.9" y="599.3" width="5.4" height="5.4" fill="#4e86be" stroke="#333" stroke-width="0.9"/>
<rect x="392.5" y="574" width="5.4" height="5.4" fill="#4e86be" stroke="#333" stroke-width="0.9"/>
<rect x="416.3" y="539.9" width="5.4" height="5.4" fill="#4e86be" stroke="#333" stroke-width="0.9"/>
<rect x="448.1" y="492.9" width="5.4" height="5.4" fill="#4e86be" stroke="#333" stroke-width="0.9"/>
<path d="M286.34 614.16L286.34 611.79M286.34 614.16L288.59 613.43M286.34 614.16L287.73 616.08M286.34 614.16L284.95 616.08M286.34 614.16L284.09 613.43M291.46 614.16L291.46 611.79M291.46 614.16L293.71 613.43M291.46 614.16L292.85 616.08M291.46 614.16L290.07 616.08M291.46 614.16L289.21 613.43" stroke="#231f20" stroke-width="1.15" stroke-linecap="round" fill="none"/>
<path d="M296 607.76L296 605.39M296 607.76L298.25 607.03M296 607.76L297.39 609.68M296 607.76L294.61 609.68M296 607.76L293.75 607.03" stroke="#231f20" stroke-width="1.15" stroke-linecap="round" fill="none"/>
<path d="M307.54 597.26L307.54 594.89M307.54 597.26L309.79 596.53M307.54 597.26L308.93 599.18M307.54 597.26L306.15 599.18M307.54 597.26L305.29 596.53M312.66 597.26L312.66 594.89M312.66 597.26L314.91 596.53M312.66 597.26L314.05 599.18M312.66 597.26L311.27 599.18M312.66 597.26L310.41 596.53" stroke="#231f20" stroke-width="1.15" stroke-linecap="round" fill="none"/>
<path d="M336.04 584.26L336.04 581.89M336.04 584.26L338.29 583.53M336.04 584.26L337.43 586.18M336.04 584.26L334.65 586.18M336.04 584.26L333.79 583.53M341.16 584.26L341.16 581.89M341.16 584.26L343.41 583.53M341.16 584.26L342.55 586.18M341.16 584.26L339.77 586.18M341.16 584.26L338.91 583.53" stroke="#231f20" stroke-width="1.15" stroke-linecap="round" fill="none"/>
<path d="M392.64 551.86L392.64 549.49M392.64 551.86L394.89 551.13M392.64 551.86L394.03 553.78M392.64 551.86L391.25 553.78M392.64 551.86L390.39 551.13M397.76 551.86L397.76 549.49M397.76 551.86L400.01 551.13M397.76 551.86L399.15 553.78M397.76 551.86L396.37 553.78M397.76 551.86L395.51 551.13" stroke="#231f20" stroke-width="1.15" stroke-linecap="round" fill="none"/>
<path d="M416.44 513.26L416.44 510.89M416.44 513.26L418.69 512.53M416.44 513.26L417.83 515.18M416.44 513.26L415.05 515.18M416.44 513.26L414.19 512.53M421.56 513.26L421.56 510.89M421.56 513.26L423.81 512.53M421.56 513.26L422.95 515.18M421.56 513.26L420.17 515.18M421.56 513.26L419.31 512.53" stroke="#231f20" stroke-width="1.15" stroke-linecap="round" fill="none"/>
<path d="M448.24 479.36L448.24 476.99M448.24 479.36L450.49 478.63M448.24 479.36L449.63 481.28M448.24 479.36L446.85 481.28M448.24 479.36L445.99 478.63M453.36 479.36L453.36 476.99M453.36 479.36L455.61 478.63M453.36 479.36L454.75 481.28M453.36 479.36L451.97 481.28M453.36 479.36L451.11 478.63" stroke="#231f20" stroke-width="1.15" stroke-linecap="round" fill="none"/>
<circle cx="303.2" cy="467.3" r="2.8" fill="#8b9194" stroke="#444" stroke-width="0.8"/>
<text transform="translate(308.6 470.1) scale(1 1.06)" x="-0.36" font-family="Liberation Sans" font-size="8.8" font-weight="bold" fill="#231f20" stroke="#231f20" stroke-width="0.22">Control</text>
<rect x="347.1" y="464.6" width="5.6" height="5.4" fill="#4e86be" stroke="#333" stroke-width="0.8"/>
<text transform="translate(354.6 470.1) scale(1 1.06)" x="-0.59" font-family="Liberation Sans" font-size="8.75" font-weight="bold" fill="#231f20" stroke="#231f20" stroke-width="0.22">Predicted FNR site</text>
<text transform="translate(338.2 651.3) scale(1 1.06)" x="-0.85" font-family="Liberation Sans" font-size="12.1" font-weight="bold" fill="#231f20" stroke="#231f20" stroke-width="0.22">μg of FNR</text>
<text transform="translate(257.6 560.5) rotate(-90) scale(1 1.06)" x="-0.5" y="0" font-family="Liberation Sans" font-size="12.3" font-weight="bold" stroke="#231f20" stroke-width="0.22" fill="#231f20">OD<tspan font-size="7.2" dy="3.7">450</tspan></text>
<line x1="510.9" y1="463.3" x2="510.9" y2="631.7" stroke="#3c3c3c" stroke-width="1.15"/>
<line x1="508.7" y1="629.5" x2="510.9" y2="629.5" stroke="#3c3c3c" stroke-width="1"/>
<text transform="translate(508.1 632.51) scale(1 1.12)" x="-4.43" font-family="Liberation Sans" font-size="8.6" font-weight="bold" fill="#231f20" stroke="#231f20" stroke-width="0.22">0</text>
<line x1="509.5" y1="615.65" x2="510.9" y2="615.65" stroke="#3c3c3c" stroke-width="1"/>
<line x1="508.7" y1="601.8" x2="510.9" y2="601.8" stroke="#3c3c3c" stroke-width="1"/>
<text transform="translate(508.1 604.81) scale(1 1.12)" x="-11.72" font-family="Liberation Sans" font-size="8.6" font-weight="bold" fill="#231f20" stroke="#231f20" stroke-width="0.22">0.1</text>
<line x1="509.5" y1="587.95" x2="510.9" y2="587.95" stroke="#3c3c3c" stroke-width="1"/>
<line x1="508.7" y1="574.1" x2="510.9" y2="574.1" stroke="#3c3c3c" stroke-width="1"/>
<text transform="translate(508.1 577.11) scale(1 1.12)" x="-11.61" font-family="Liberation Sans" font-size="8.6" font-weight="bold" fill="#231f20" stroke="#231f20" stroke-width="0.22">0.2</text>
<line x1="509.5" y1="560.25" x2="510.9" y2="560.25" stroke="#3c3c3c" stroke-width="1"/>
<line x1="508.7" y1="546.4" x2="510.9" y2="546.4" stroke="#3c3c3c" stroke-width="1"/>
<text transform="translate(508.1 549.41) scale(1 1.12)" x="-11.64" font-family="Liberation Sans" font-size="8.6" font-weight="bold" fill="#231f20" stroke="#231f20" stroke-width="0.22">0.3</text>
<line x1="509.5" y1="532.55" x2="510.9" y2="532.55" stroke="#3c3c3c" stroke-width="1"/>
<line x1="508.7" y1="518.7" x2="510.9" y2="518.7" stroke="#3c3c3c" stroke-width="1"/>
<text transform="translate(508.1 521.71) scale(1 1.12)" x="-11.91" font-family="Liberation Sans" font-size="8.6" font-weight="bold" fill="#231f20" stroke="#231f20" stroke-width="0.22">0.4</text>
<line x1="509.5" y1="504.85" x2="510.9" y2="504.85" stroke="#3c3c3c" stroke-width="1"/>
<line x1="508.7" y1="491" x2="510.9" y2="491" stroke="#3c3c3c" stroke-width="1"/>
<text transform="translate(508.1 494.01) scale(1 1.12)" x="-11.72" font-family="Liberation Sans" font-size="8.6" font-weight="bold" fill="#231f20" stroke="#231f20" stroke-width="0.22">0.5</text>
<line x1="509.5" y1="477.15" x2="510.9" y2="477.15" stroke="#3c3c3c" stroke-width="1"/>
<line x1="508.7" y1="463.3" x2="510.9" y2="463.3" stroke="#3c3c3c" stroke-width="1"/>
<text transform="translate(508.1 466.31) scale(1 1.12)" x="-11.64" font-family="Liberation Sans" font-size="8.6" font-weight="bold" fill="#231f20" stroke="#231f20" stroke-width="0.22">0.6</text>
<line x1="508.7" y1="629.5" x2="610.8" y2="629.5" stroke="#3c3c3c" stroke-width="1.15"/>
<line x1="613" y1="629.5" x2="680.6" y2="629.5" stroke="#3c3c3c" stroke-width="1.15"/>
<line x1="610.4" y1="628" x2="610.4" y2="631" stroke="#3c3c3c" stroke-width="0.9"/>
<line x1="613.4" y1="628" x2="613.4" y2="631" stroke="#3c3c3c" stroke-width="0.9"/>
<line x1="510.9" y1="629.5" x2="510.9" y2="631.5" stroke="#3c3c3c" stroke-width="1"/>
<line x1="528.96" y1="629.5" x2="528.96" y2="631.5" stroke="#3c3c3c" stroke-width="1"/>
<line x1="547.02" y1="629.5" x2="547.02" y2="631.5" stroke="#3c3c3c" stroke-width="1"/>
<line x1="565.08" y1="629.5" x2="565.08" y2="631.5" stroke="#3c3c3c" stroke-width="1"/>
<line x1="583.14" y1="629.5" x2="583.14" y2="631.5" stroke="#3c3c3c" stroke-width="1"/>
<line x1="601.2" y1="629.5" x2="601.2" y2="631.5" stroke="#3c3c3c" stroke-width="1"/>
<line x1="619.7" y1="629.5" x2="619.7" y2="631.5" stroke="#3c3c3c" stroke-width="1"/>
<line x1="639.8" y1="629.5" x2="639.8" y2="631.5" stroke="#3c3c3c" stroke-width="1"/>
<line x1="659.9" y1="629.5" x2="659.9" y2="631.5" stroke="#3c3c3c" stroke-width="1"/>
<line x1="680" y1="629.5" x2="680" y2="631.5" stroke="#3c3c3c" stroke-width="1"/>
<line x1="519.93" y1="629.5" x2="519.93" y2="630.7" stroke="#3c3c3c" stroke-width="0.9"/>
<line x1="537.99" y1="629.5" x2="537.99" y2="630.7" stroke="#3c3c3c" stroke-width="0.9"/>
<line x1="556.05" y1="629.5" x2="556.05" y2="630.7" stroke="#3c3c3c" stroke-width="0.9"/>
<line x1="574.11" y1="629.5" x2="574.11" y2="630.7" stroke="#3c3c3c" stroke-width="0.9"/>
<line x1="592.17" y1="629.5" x2="592.17" y2="630.7" stroke="#3c3c3c" stroke-width="0.9"/>
<line x1="629.75" y1="629.5" x2="629.75" y2="630.7" stroke="#3c3c3c" stroke-width="0.9"/>
<line x1="649.85" y1="629.5" x2="649.85" y2="630.7" stroke="#3c3c3c" stroke-width="0.9"/>
<line x1="669.95" y1="629.5" x2="669.95" y2="630.7" stroke="#3c3c3c" stroke-width="0.9"/>
<text transform="translate(510.9 639.4) scale(1 1.12)" x="-2.39" font-family="Liberation Sans" font-size="8.6" font-weight="bold" fill="#231f20" stroke="#231f20" stroke-width="0.22">0</text>
<text transform="translate(528.96 639.4) scale(1 1.12)" x="-2.54" font-family="Liberation Sans" font-size="8.6" font-weight="bold" fill="#231f20" stroke="#231f20" stroke-width="0.22">1</text>
<text transform="translate(547.02 639.4) scale(1 1.12)" x="-2.37" font-family="Liberation Sans" font-size="8.6" font-weight="bold" fill="#231f20" stroke="#231f20" stroke-width="0.22">2</text>
<text transform="translate(565.08 639.4) scale(1 1.12)" x="-2.33" font-family="Liberation Sans" font-size="8.6" font-weight="bold" fill="#231f20" stroke="#231f20" stroke-width="0.22">3</text>
<text transform="translate(583.14 639.4) scale(1 1.12)" x="-2.43" font-family="Liberation Sans" font-size="8.6" font-weight="bold" fill="#231f20" stroke="#231f20" stroke-width="0.22">4</text>
<text transform="translate(601.2 639.4) scale(1 1.12)" x="-2.4" font-family="Liberation Sans" font-size="8.6" font-weight="bold" fill="#231f20" stroke="#231f20" stroke-width="0.22">5</text>
<text transform="translate(619.7 639.4) scale(1 1.12)" x="-4.88" font-family="Liberation Sans" font-size="8.6" font-weight="bold" fill="#231f20" stroke="#231f20" stroke-width="0.22">10</text>
<text transform="translate(639.8 639.4) scale(1 1.12)" x="-4.76" font-family="Liberation Sans" font-size="8.6" font-weight="bold" fill="#231f20" stroke="#231f20" stroke-width="0.22">20</text>
<text transform="translate(659.9 639.4) scale(1 1.12)" x="-4.71" font-family="Liberation Sans" font-size="8.6" font-weight="bold" fill="#231f20" stroke="#231f20" stroke-width="0.22">30</text>
<text transform="translate(680 639.4) scale(1 1.12)" x="-4.67" font-family="Liberation Sans" font-size="8.6" font-weight="bold" fill="#231f20" stroke="#231f20" stroke-width="0.22">40</text>
<polyline points="510.9,629.5 522.5,624.6 533.7,619.8 555.9,618.7 601.2,613.8 610.8,610.58" fill="none" stroke="#2a2a2a" stroke-width="1"/>
<polyline points="613,609.85 619.7,607.6 639.5,604.6 680.2,587.7" fill="none" stroke="#2a2a2a" stroke-width="1"/>
<polyline points="510.9,629.5 522.5,613 533.7,606.9 555.9,597 601.2,575.6 610.8,564.91" fill="none" stroke="#2a2a2a" stroke-width="1"/>
<polyline points="613,562.46 619.7,555 639.5,530.7 680.2,503.1" fill="none" stroke="#2a2a2a" stroke-width="1"/>
<line x1="555.9" y1="590.9" x2="555.9" y2="602.9" stroke="#333" stroke-width="1"/>
<line x1="553.7" y1="590.9" x2="558.1" y2="590.9" stroke="#333" stroke-width="1"/>
<line x1="553.7" y1="602.9" x2="558.1" y2="602.9" stroke="#333" stroke-width="1"/>
<line x1="601.2" y1="568.4" x2="601.2" y2="582.7" stroke="#333" stroke-width="1"/>
<line x1="599" y1="568.4" x2="603.4" y2="568.4" stroke="#333" stroke-width="1"/>
<line x1="599" y1="582.7" x2="603.4" y2="582.7" stroke="#333" stroke-width="1"/>
<line x1="619.7" y1="543.8" x2="619.7" y2="566.3" stroke="#333" stroke-width="1"/>
<line x1="617.5" y1="543.8" x2="621.9" y2="543.8" stroke="#333" stroke-width="1"/>
<line x1="617.5" y1="566.3" x2="621.9" y2="566.3" stroke="#333" stroke-width="1"/>
<line x1="639.5" y1="507.5" x2="639.5" y2="554.4" stroke="#333" stroke-width="1"/>
<line x1="637.3" y1="507.5" x2="641.7" y2="507.5" stroke="#333" stroke-width="1"/>
<line x1="637.3" y1="554.4" x2="641.7" y2="554.4" stroke="#333" stroke-width="1"/>
<line x1="680.2" y1="479.3" x2="680.2" y2="526.8" stroke="#333" stroke-width="1"/>
<line x1="678" y1="479.3" x2="682.4" y2="479.3" stroke="#333" stroke-width="1"/>
<line x1="678" y1="526.8" x2="682.4" y2="526.8" stroke="#333" stroke-width="1"/>
<line x1="619.7" y1="605" x2="619.7" y2="610.2" stroke="#333" stroke-width="1"/>
<line x1="617.5" y1="605" x2="621.9" y2="605" stroke="#333" stroke-width="1"/>
<line x1="617.5" y1="610.2" x2="621.9" y2="610.2" stroke="#333" stroke-width="1"/>
<line x1="639.5" y1="601" x2="639.5" y2="608.2" stroke="#333" stroke-width="1"/>
<line x1="637.3" y1="601" x2="641.7" y2="601" stroke="#333" stroke-width="1"/>
<line x1="637.3" y1="608.2" x2="641.7" y2="608.2" stroke="#333" stroke-width="1"/>
<circle cx="522.5" cy="624.6" r="2.75" fill="#8b9194" stroke="#333" stroke-width="0.9"/>
<circle cx="533.7" cy="619.8" r="2.75" fill="#8b9194" stroke="#333" stroke-width="0.9"/>
<circle cx="555.9" cy="618.7" r="2.75" fill="#8b9194" stroke="#333" stroke-width="0.9"/>
<circle cx="601.2" cy="613.8" r="2.75" fill="#8b9194" stroke="#333" stroke-width="0.9"/>
<circle cx="619.7" cy="607.6" r="2.75" fill="#8b9194" stroke="#333" stroke-width="0.9"/>
<circle cx="639.5" cy="604.6" r="2.75" fill="#8b9194" stroke="#333" stroke-width="0.9"/>
<circle cx="680.2" cy="587.7" r="2.75" fill="#8b9194" stroke="#333" stroke-width="0.9"/>
<rect x="519.8" y="610.3" width="5.4" height="5.4" fill="#ee8f77" stroke="#333" stroke-width="0.9"/>
<rect x="531" y="604.2" width="5.4" height="5.4" fill="#ee8f77" stroke="#333" stroke-width="0.9"/>
<rect x="553.2" y="594.3" width="5.4" height="5.4" fill="#ee8f77" stroke="#333" stroke-width="0.9"/>
<rect x="598.5" y="572.9" width="5.4" height="5.4" fill="#ee8f77" stroke="#333" stroke-width="0.9"/>
<rect x="617" y="552.3" width="5.4" height="5.4" fill="#ee8f77" stroke="#333" stroke-width="0.9"/>
<rect x="636.8" y="528" width="5.4" height="5.4" fill="#ee8f77" stroke="#333" stroke-width="0.9"/>
<rect x="677.5" y="500.4" width="5.4" height="5.4" fill="#ee8f77" stroke="#333" stroke-width="0.9"/>
<path d="M522.5 602.16L522.5 599.79M522.5 602.16L524.75 601.43M522.5 602.16L523.89 604.08M522.5 602.16L521.11 604.08M522.5 602.16L520.25 601.43" stroke="#231f20" stroke-width="1.15" stroke-linecap="round" fill="none"/>
<path d="M531.14 590.86L531.14 588.49M531.14 590.86L533.39 590.13M531.14 590.86L532.53 592.78M531.14 590.86L529.75 592.78M531.14 590.86L528.89 590.13M536.26 590.86L536.26 588.49M536.26 590.86L538.51 590.13M536.26 590.86L537.65 592.78M536.26 590.86L534.87 592.78M536.26 590.86L534.01 590.13" stroke="#231f20" stroke-width="1.15" stroke-linecap="round" fill="none"/>
<path d="M553.64 580.36L553.64 577.99M553.64 580.36L555.89 579.63M553.64 580.36L555.03 582.28M553.64 580.36L552.25 582.28M553.64 580.36L551.39 579.63M558.76 580.36L558.76 577.99M558.76 580.36L561.01 579.63M558.76 580.36L560.15 582.28M558.76 580.36L557.37 582.28M558.76 580.36L556.51 579.63" stroke="#231f20" stroke-width="1.15" stroke-linecap="round" fill="none"/>
<path d="M598.94 559.56L598.94 557.19M598.94 559.56L601.19 558.83M598.94 559.56L600.33 561.48M598.94 559.56L597.55 561.48M598.94 559.56L596.69 558.83M604.06 559.56L604.06 557.19M604.06 559.56L606.31 558.83M604.06 559.56L605.45 561.48M604.06 559.56L602.67 561.48M604.06 559.56L601.81 558.83" stroke="#231f20" stroke-width="1.15" stroke-linecap="round" fill="none"/>
<path d="M617.14 535.76L617.14 533.39M617.14 535.76L619.39 535.03M617.14 535.76L618.53 537.68M617.14 535.76L615.75 537.68M617.14 535.76L614.89 535.03M622.26 535.76L622.26 533.39M622.26 535.76L624.51 535.03M622.26 535.76L623.65 537.68M622.26 535.76L620.87 537.68M622.26 535.76L620.01 535.03" stroke="#231f20" stroke-width="1.15" stroke-linecap="round" fill="none"/>
<path d="M636.94 499.26L636.94 496.89M636.94 499.26L639.19 498.53M636.94 499.26L638.33 501.18M636.94 499.26L635.55 501.18M636.94 499.26L634.69 498.53M642.06 499.26L642.06 496.89M642.06 499.26L644.31 498.53M642.06 499.26L643.45 501.18M642.06 499.26L640.67 501.18M642.06 499.26L639.81 498.53" stroke="#231f20" stroke-width="1.15" stroke-linecap="round" fill="none"/>
<path d="M677.64 471.66L677.64 469.29M677.64 471.66L679.89 470.93M677.64 471.66L679.03 473.58M677.64 471.66L676.25 473.58M677.64 471.66L675.39 470.93M682.76 471.66L682.76 469.29M682.76 471.66L685.01 470.93M682.76 471.66L684.15 473.58M682.76 471.66L681.37 473.58M682.76 471.66L680.51 470.93" stroke="#231f20" stroke-width="1.15" stroke-linecap="round" fill="none"/>
<circle cx="534.3" cy="467.3" r="2.8" fill="#8b9194" stroke="#444" stroke-width="0.8"/>
<text transform="translate(539.2 470.1) scale(1 1.06)" x="-0.36" font-family="Liberation Sans" font-size="8.8" font-weight="bold" fill="#231f20" stroke="#231f20" stroke-width="0.22">Control</text>
<rect x="578.2" y="464.6" width="5.6" height="5.4" fill="#ee8f77" stroke="#333" stroke-width="0.8"/>
<text transform="translate(585.9 470.1) scale(1 1.06)" x="-0.59" font-family="Liberation Sans" font-size="8.75" font-weight="bold" fill="#231f20" stroke="#231f20" stroke-width="0.22">Predicted Fur site</text>
<text transform="translate(569.9 651.3) scale(1 1.06)" x="-0.85" font-family="Liberation Sans" font-size="12.1" font-weight="bold" fill="#231f20" stroke="#231f20" stroke-width="0.22">μg of Fur</text>
<text transform="translate(485.7 560.5) rotate(-90) scale(1 1.06)" x="-0.5" y="0" font-family="Liberation Sans" font-size="12.3" font-weight="bold" stroke="#231f20" stroke-width="0.22" fill="#231f20">OD<tspan font-size="7.2" dy="3.7">450</tspan></text>
</svg>
</body></html>
